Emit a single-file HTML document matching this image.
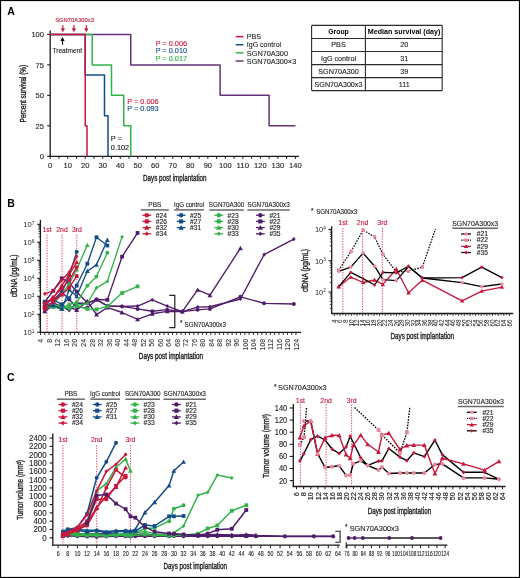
<!DOCTYPE html><html><head><meta charset="utf-8"><style>html,body{margin:0;padding:0;background:#fff;}svg{display:block;will-change:transform;}text{font-family:"Liberation Sans",sans-serif;}</style></head><body>
<svg width="520" height="578" viewBox="0 0 520 578">
<rect x="0" y="0" width="520" height="578" fill="#fff"/>
<text x="7.2" y="14.6" font-size="10.5" font-weight="bold" fill="#000">A</text>
<line x1="50.2" y1="30.6" x2="50.2" y2="156.9" stroke="#1a1a1a" stroke-width="1.3"/>
<line x1="49.6" y1="156.3" x2="299" y2="156.3" stroke="#1a1a1a" stroke-width="1.3"/>
<line x1="47.2" y1="156.3" x2="50.2" y2="156.3" stroke="#1a1a1a" stroke-width="1.1"/>
<text x="44" y="159.1" font-size="8" text-anchor="end" fill="#1e1e1e" stroke="#1e1e1e" stroke-width="0.12" textLength="4.2" lengthAdjust="spacingAndGlyphs">0</text>
<line x1="47.2" y1="125.83" x2="50.2" y2="125.83" stroke="#1a1a1a" stroke-width="1.1"/>
<text x="44" y="128.63" font-size="8" text-anchor="end" fill="#1e1e1e" stroke="#1e1e1e" stroke-width="0.12" textLength="8.4" lengthAdjust="spacingAndGlyphs">25</text>
<line x1="47.2" y1="95.35" x2="50.2" y2="95.35" stroke="#1a1a1a" stroke-width="1.1"/>
<text x="44" y="98.15" font-size="8" text-anchor="end" fill="#1e1e1e" stroke="#1e1e1e" stroke-width="0.12" textLength="8.4" lengthAdjust="spacingAndGlyphs">50</text>
<line x1="47.2" y1="64.88" x2="50.2" y2="64.88" stroke="#1a1a1a" stroke-width="1.1"/>
<text x="44" y="67.67" font-size="8" text-anchor="end" fill="#1e1e1e" stroke="#1e1e1e" stroke-width="0.12" textLength="8.4" lengthAdjust="spacingAndGlyphs">75</text>
<line x1="47.2" y1="34.4" x2="50.2" y2="34.4" stroke="#1a1a1a" stroke-width="1.1"/>
<text x="44" y="37.2" font-size="8" text-anchor="end" fill="#1e1e1e" stroke="#1e1e1e" stroke-width="0.12" textLength="12.6" lengthAdjust="spacingAndGlyphs">100</text>
<line x1="50.2" y1="156.3" x2="50.2" y2="158.9" stroke="#1a1a1a" stroke-width="1"/>
<line x1="58.96" y1="156.3" x2="58.96" y2="158.9" stroke="#1a1a1a" stroke-width="1"/>
<line x1="67.71" y1="156.3" x2="67.71" y2="158.9" stroke="#1a1a1a" stroke-width="1"/>
<line x1="76.47" y1="156.3" x2="76.47" y2="158.9" stroke="#1a1a1a" stroke-width="1"/>
<line x1="85.23" y1="156.3" x2="85.23" y2="158.9" stroke="#1a1a1a" stroke-width="1"/>
<line x1="93.99" y1="156.3" x2="93.99" y2="158.9" stroke="#1a1a1a" stroke-width="1"/>
<line x1="102.74" y1="156.3" x2="102.74" y2="158.9" stroke="#1a1a1a" stroke-width="1"/>
<line x1="111.5" y1="156.3" x2="111.5" y2="158.9" stroke="#1a1a1a" stroke-width="1"/>
<line x1="120.26" y1="156.3" x2="120.26" y2="158.9" stroke="#1a1a1a" stroke-width="1"/>
<line x1="129.01" y1="156.3" x2="129.01" y2="158.9" stroke="#1a1a1a" stroke-width="1"/>
<line x1="137.77" y1="156.3" x2="137.77" y2="158.9" stroke="#1a1a1a" stroke-width="1"/>
<line x1="146.53" y1="156.3" x2="146.53" y2="158.9" stroke="#1a1a1a" stroke-width="1"/>
<line x1="155.28" y1="156.3" x2="155.28" y2="158.9" stroke="#1a1a1a" stroke-width="1"/>
<line x1="164.04" y1="156.3" x2="164.04" y2="158.9" stroke="#1a1a1a" stroke-width="1"/>
<line x1="172.8" y1="156.3" x2="172.8" y2="158.9" stroke="#1a1a1a" stroke-width="1"/>
<line x1="181.56" y1="156.3" x2="181.56" y2="158.9" stroke="#1a1a1a" stroke-width="1"/>
<line x1="190.31" y1="156.3" x2="190.31" y2="158.9" stroke="#1a1a1a" stroke-width="1"/>
<line x1="199.07" y1="156.3" x2="199.07" y2="158.9" stroke="#1a1a1a" stroke-width="1"/>
<line x1="207.83" y1="156.3" x2="207.83" y2="158.9" stroke="#1a1a1a" stroke-width="1"/>
<line x1="216.58" y1="156.3" x2="216.58" y2="158.9" stroke="#1a1a1a" stroke-width="1"/>
<line x1="225.34" y1="156.3" x2="225.34" y2="158.9" stroke="#1a1a1a" stroke-width="1"/>
<line x1="234.1" y1="156.3" x2="234.1" y2="158.9" stroke="#1a1a1a" stroke-width="1"/>
<line x1="242.85" y1="156.3" x2="242.85" y2="158.9" stroke="#1a1a1a" stroke-width="1"/>
<line x1="251.61" y1="156.3" x2="251.61" y2="158.9" stroke="#1a1a1a" stroke-width="1"/>
<line x1="260.37" y1="156.3" x2="260.37" y2="158.9" stroke="#1a1a1a" stroke-width="1"/>
<line x1="269.12" y1="156.3" x2="269.12" y2="158.9" stroke="#1a1a1a" stroke-width="1"/>
<line x1="277.88" y1="156.3" x2="277.88" y2="158.9" stroke="#1a1a1a" stroke-width="1"/>
<line x1="286.64" y1="156.3" x2="286.64" y2="158.9" stroke="#1a1a1a" stroke-width="1"/>
<line x1="295.4" y1="156.3" x2="295.4" y2="158.9" stroke="#1a1a1a" stroke-width="1"/>
<text x="50.2" y="168" font-size="7.6" text-anchor="middle" fill="#1e1e1e" stroke="#1e1e1e" stroke-width="0.12" textLength="4.2" lengthAdjust="spacingAndGlyphs">0</text>
<text x="67.71" y="168" font-size="7.6" text-anchor="middle" fill="#1e1e1e" stroke="#1e1e1e" stroke-width="0.12" textLength="8.4" lengthAdjust="spacingAndGlyphs">10</text>
<text x="85.23" y="168" font-size="7.6" text-anchor="middle" fill="#1e1e1e" stroke="#1e1e1e" stroke-width="0.12" textLength="8.4" lengthAdjust="spacingAndGlyphs">20</text>
<text x="102.74" y="168" font-size="7.6" text-anchor="middle" fill="#1e1e1e" stroke="#1e1e1e" stroke-width="0.12" textLength="8.4" lengthAdjust="spacingAndGlyphs">30</text>
<text x="120.26" y="168" font-size="7.6" text-anchor="middle" fill="#1e1e1e" stroke="#1e1e1e" stroke-width="0.12" textLength="8.4" lengthAdjust="spacingAndGlyphs">40</text>
<text x="137.77" y="168" font-size="7.6" text-anchor="middle" fill="#1e1e1e" stroke="#1e1e1e" stroke-width="0.12" textLength="8.4" lengthAdjust="spacingAndGlyphs">50</text>
<text x="155.28" y="168" font-size="7.6" text-anchor="middle" fill="#1e1e1e" stroke="#1e1e1e" stroke-width="0.12" textLength="8.4" lengthAdjust="spacingAndGlyphs">60</text>
<text x="172.8" y="168" font-size="7.6" text-anchor="middle" fill="#1e1e1e" stroke="#1e1e1e" stroke-width="0.12" textLength="8.4" lengthAdjust="spacingAndGlyphs">70</text>
<text x="190.31" y="168" font-size="7.6" text-anchor="middle" fill="#1e1e1e" stroke="#1e1e1e" stroke-width="0.12" textLength="8.4" lengthAdjust="spacingAndGlyphs">80</text>
<text x="207.83" y="168" font-size="7.6" text-anchor="middle" fill="#1e1e1e" stroke="#1e1e1e" stroke-width="0.12" textLength="8.4" lengthAdjust="spacingAndGlyphs">90</text>
<text x="225.34" y="168" font-size="7.6" text-anchor="middle" fill="#1e1e1e" stroke="#1e1e1e" stroke-width="0.12" textLength="12.6" lengthAdjust="spacingAndGlyphs">100</text>
<text x="242.85" y="168" font-size="7.6" text-anchor="middle" fill="#1e1e1e" stroke="#1e1e1e" stroke-width="0.12" textLength="12.6" lengthAdjust="spacingAndGlyphs">110</text>
<text x="260.37" y="168" font-size="7.6" text-anchor="middle" fill="#1e1e1e" stroke="#1e1e1e" stroke-width="0.12" textLength="12.6" lengthAdjust="spacingAndGlyphs">120</text>
<text x="277.88" y="168" font-size="7.6" text-anchor="middle" fill="#1e1e1e" stroke="#1e1e1e" stroke-width="0.12" textLength="12.6" lengthAdjust="spacingAndGlyphs">130</text>
<text x="295.4" y="168" font-size="7.6" text-anchor="middle" fill="#1e1e1e" stroke="#1e1e1e" stroke-width="0.12" textLength="12.6" lengthAdjust="spacingAndGlyphs">140</text>
<text transform="translate(25.9 93.6) rotate(-90)" x="0" y="0" font-size="8.8" text-anchor="middle" fill="#1e1e1e" stroke="#1e1e1e" stroke-width="0.35" textLength="57.6" lengthAdjust="spacingAndGlyphs">Percent survival (%)</text>
<text x="143.1" y="180.8" font-size="8.8" fill="#1e1e1e" stroke="#1e1e1e" stroke-width="0.35" textLength="63.4" lengthAdjust="spacingAndGlyphs">Days post implantation</text>
<path d="M50.2,34.4 L130.76,34.4 L130.76,64.88 L220.09,64.88 L220.09,95.35 L269.12,95.35 L269.12,125.83 L295.4,125.83 L295.4,125.83" stroke="#663178" stroke-width="1.5" fill="none" stroke-linejoin="round"/>
<path d="M50.2,34.4 L85.23,34.4 L85.23,75.03 L104.49,75.03 L104.49,115.67 L108,115.67 L108,156.3" stroke="#134c88" stroke-width="1.5" fill="none" stroke-linejoin="round"/>
<path d="M85.23,34.4 L92.23,34.4 L92.23,64.88 L111.5,64.88 L111.5,95.35 L123.76,95.35 L123.76,125.83 L130.76,125.83 L130.76,156.3" stroke="#33b24a" stroke-width="1.5" fill="none" stroke-linejoin="round"/>
<path d="M50.2,34.4 L85.23,34.4 L85.23,125.83 L86.98,125.83 L86.98,156.3" stroke="#c8163c" stroke-width="1.5" fill="none" stroke-linejoin="round"/>
<text x="55.2" y="21.9" font-size="6" fill="#c8163c" stroke="#c8163c" stroke-width="0.12" textLength="38.8" lengthAdjust="spacingAndGlyphs">SGN70A300x3</text>
<line x1="62.9" y1="25" x2="62.9" y2="29.2" stroke="#c8163c" stroke-width="1.1"/>
<path d="M60.8,28.2 L65,28.2 L62.9,32.2 Z" fill="#c8163c"/>
<line x1="73.9" y1="25" x2="73.9" y2="29.2" stroke="#c8163c" stroke-width="1.1"/>
<path d="M71.8,28.2 L76,28.2 L73.9,32.2 Z" fill="#c8163c"/>
<line x1="86.3" y1="25" x2="86.3" y2="29.2" stroke="#c8163c" stroke-width="1.1"/>
<path d="M84.2,28.2 L88.4,28.2 L86.3,32.2 Z" fill="#c8163c"/>
<line x1="62.5" y1="40" x2="62.5" y2="44.8" stroke="#000" stroke-width="1.1"/>
<path d="M60.4,41 L64.6,41 L62.5,36.9 Z" fill="#000"/>
<text x="52.5" y="52.6" font-size="7.4" fill="#1e1e1e" stroke="#1e1e1e" stroke-width="0.12" textLength="29.7" lengthAdjust="spacingAndGlyphs">Treatment</text>
<text x="155.8" y="46.1" font-size="6.8" fill="#c8163c" stroke="#c8163c" stroke-width="0.12" textLength="31.2" lengthAdjust="spacingAndGlyphs">P = 0.006</text>
<text x="155.8" y="53.3" font-size="6.8" fill="#134c88" stroke="#134c88" stroke-width="0.12" textLength="31.2" lengthAdjust="spacingAndGlyphs">P = 0.010</text>
<text x="155.8" y="60.5" font-size="6.8" fill="#33b24a" stroke="#33b24a" stroke-width="0.12" textLength="31.2" lengthAdjust="spacingAndGlyphs">P = 0.017</text>
<text x="127.2" y="104.2" font-size="6.8" fill="#c8163c" stroke="#c8163c" stroke-width="0.12" textLength="31.5" lengthAdjust="spacingAndGlyphs">P = 0.006</text>
<text x="127.2" y="111.4" font-size="6.8" fill="#134c88" stroke="#134c88" stroke-width="0.12" textLength="31.5" lengthAdjust="spacingAndGlyphs">P = 0.093</text>
<text x="110.8" y="141.2" font-size="6.8" fill="#1e1e1e" stroke="#1e1e1e" stroke-width="0.12" textLength="11.3" lengthAdjust="spacingAndGlyphs">P =</text>
<text x="110.8" y="149.5" font-size="6.8" fill="#1e1e1e" stroke="#1e1e1e" stroke-width="0.12" textLength="18.4" lengthAdjust="spacingAndGlyphs">0.102</text>
<line x1="235.7" y1="36.6" x2="243.5" y2="36.6" stroke="#c8163c" stroke-width="1.5"/>
<text x="246.8" y="39.35" font-size="7.8" fill="#1e1e1e" stroke="#1e1e1e" stroke-width="0.12" textLength="14.3" lengthAdjust="spacingAndGlyphs">PBS</text>
<line x1="235.7" y1="44.73" x2="243.5" y2="44.73" stroke="#134c88" stroke-width="1.5"/>
<text x="246.8" y="47.48" font-size="7.8" fill="#1e1e1e" stroke="#1e1e1e" stroke-width="0.12" textLength="34.3" lengthAdjust="spacingAndGlyphs">IgG control</text>
<line x1="235.7" y1="52.86" x2="243.5" y2="52.86" stroke="#33b24a" stroke-width="1.5"/>
<text x="246.8" y="55.61" font-size="7.8" fill="#1e1e1e" stroke="#1e1e1e" stroke-width="0.12" textLength="41.2" lengthAdjust="spacingAndGlyphs">SGN70A300</text>
<line x1="235.7" y1="60.99" x2="243.5" y2="60.99" stroke="#663178" stroke-width="1.5"/>
<text x="246.8" y="63.74" font-size="7.8" fill="#1e1e1e" stroke="#1e1e1e" stroke-width="0.12" textLength="49.4" lengthAdjust="spacingAndGlyphs">SGN70A300×3</text>
<g stroke="#2a2a2a" stroke-width="1.1">
<line x1="311.6" y1="25.4" x2="442.2" y2="25.4" stroke="#2a2a2a" stroke-width="1.1"/>
<line x1="311.6" y1="38.45" x2="442.2" y2="38.45" stroke="#2a2a2a" stroke-width="1.1"/>
<line x1="311.6" y1="51.5" x2="442.2" y2="51.5" stroke="#2a2a2a" stroke-width="1.1"/>
<line x1="311.6" y1="64.6" x2="442.2" y2="64.6" stroke="#2a2a2a" stroke-width="1.1"/>
<line x1="311.6" y1="77.65" x2="442.2" y2="77.65" stroke="#2a2a2a" stroke-width="1.1"/>
<line x1="311.6" y1="90.6" x2="442.2" y2="90.6" stroke="#2a2a2a" stroke-width="1.1"/>
<line x1="311.6" y1="25.4" x2="311.6" y2="90.6" stroke="#2a2a2a" stroke-width="1.1"/>
<line x1="365.4" y1="25.4" x2="365.4" y2="90.6" stroke="#2a2a2a" stroke-width="1.1"/>
<line x1="442.2" y1="25.4" x2="442.2" y2="90.6" stroke="#2a2a2a" stroke-width="1.1"/>
</g>
<text x="338.5" y="33.8" font-size="7" text-anchor="middle" font-weight="bold" fill="#000" textLength="20.7" lengthAdjust="spacingAndGlyphs">Group</text>
<text x="404.1" y="33.8" font-size="7" text-anchor="middle" font-weight="bold" fill="#000" textLength="72.6" lengthAdjust="spacingAndGlyphs">Median survival (day)</text>
<text x="338.5" y="47.48" font-size="7.2" text-anchor="middle" fill="#1e1e1e" stroke="#1e1e1e" stroke-width="0.12">PBS</text>
<text x="404.3" y="47.48" font-size="7.2" text-anchor="middle" fill="#1e1e1e" stroke="#1e1e1e" stroke-width="0.12">20</text>
<text x="338.5" y="60.55" font-size="7.2" text-anchor="middle" fill="#1e1e1e" stroke="#1e1e1e" stroke-width="0.12">IgG control</text>
<text x="404.3" y="60.55" font-size="7.2" text-anchor="middle" fill="#1e1e1e" stroke="#1e1e1e" stroke-width="0.12">31</text>
<text x="338.5" y="73.62" font-size="7.2" text-anchor="middle" fill="#1e1e1e" stroke="#1e1e1e" stroke-width="0.12">SGN70A300</text>
<text x="404.3" y="73.62" font-size="7.2" text-anchor="middle" fill="#1e1e1e" stroke="#1e1e1e" stroke-width="0.12">39</text>
<text x="338.5" y="86.62" font-size="7.2" text-anchor="middle" fill="#1e1e1e" stroke="#1e1e1e" stroke-width="0.12">SGN70A300x3</text>
<text x="404.3" y="86.62" font-size="7.2" text-anchor="middle" fill="#1e1e1e" stroke="#1e1e1e" stroke-width="0.12">111</text>
<text x="7.2" y="207.1" font-size="10.5" font-weight="bold" fill="#000">B</text>
<line x1="40.4" y1="219.8" x2="40.4" y2="332.9" stroke="#1a1a1a" stroke-width="1.3"/>
<line x1="37.2" y1="332.3" x2="40.4" y2="332.3" stroke="#1a1a1a" stroke-width="1.1"/>
<text x="34.4" y="335.1" font-size="7.6" text-anchor="end" fill="#1e1e1e">10<tspan font-size="4.8" dy="-2.4">1</tspan></text>
<line x1="38.5" y1="326.88" x2="40.4" y2="326.88" stroke="#1a1a1a" stroke-width="0.8"/>
<line x1="38.5" y1="323.71" x2="40.4" y2="323.71" stroke="#1a1a1a" stroke-width="0.8"/>
<line x1="38.5" y1="321.46" x2="40.4" y2="321.46" stroke="#1a1a1a" stroke-width="0.8"/>
<line x1="38.5" y1="319.72" x2="40.4" y2="319.72" stroke="#1a1a1a" stroke-width="0.8"/>
<line x1="38.5" y1="318.29" x2="40.4" y2="318.29" stroke="#1a1a1a" stroke-width="0.8"/>
<line x1="38.5" y1="317.09" x2="40.4" y2="317.09" stroke="#1a1a1a" stroke-width="0.8"/>
<line x1="38.5" y1="316.04" x2="40.4" y2="316.04" stroke="#1a1a1a" stroke-width="0.8"/>
<line x1="38.5" y1="315.12" x2="40.4" y2="315.12" stroke="#1a1a1a" stroke-width="0.8"/>
<line x1="37.2" y1="314.3" x2="40.4" y2="314.3" stroke="#1a1a1a" stroke-width="1.1"/>
<text x="34.4" y="317.1" font-size="7.6" text-anchor="end" fill="#1e1e1e">10<tspan font-size="4.8" dy="-2.4">2</tspan></text>
<line x1="38.5" y1="308.88" x2="40.4" y2="308.88" stroke="#1a1a1a" stroke-width="0.8"/>
<line x1="38.5" y1="305.71" x2="40.4" y2="305.71" stroke="#1a1a1a" stroke-width="0.8"/>
<line x1="38.5" y1="303.46" x2="40.4" y2="303.46" stroke="#1a1a1a" stroke-width="0.8"/>
<line x1="38.5" y1="301.72" x2="40.4" y2="301.72" stroke="#1a1a1a" stroke-width="0.8"/>
<line x1="38.5" y1="300.29" x2="40.4" y2="300.29" stroke="#1a1a1a" stroke-width="0.8"/>
<line x1="38.5" y1="299.09" x2="40.4" y2="299.09" stroke="#1a1a1a" stroke-width="0.8"/>
<line x1="38.5" y1="298.04" x2="40.4" y2="298.04" stroke="#1a1a1a" stroke-width="0.8"/>
<line x1="38.5" y1="297.12" x2="40.4" y2="297.12" stroke="#1a1a1a" stroke-width="0.8"/>
<line x1="37.2" y1="296.3" x2="40.4" y2="296.3" stroke="#1a1a1a" stroke-width="1.1"/>
<text x="34.4" y="299.1" font-size="7.6" text-anchor="end" fill="#1e1e1e">10<tspan font-size="4.8" dy="-2.4">3</tspan></text>
<line x1="38.5" y1="290.88" x2="40.4" y2="290.88" stroke="#1a1a1a" stroke-width="0.8"/>
<line x1="38.5" y1="287.71" x2="40.4" y2="287.71" stroke="#1a1a1a" stroke-width="0.8"/>
<line x1="38.5" y1="285.46" x2="40.4" y2="285.46" stroke="#1a1a1a" stroke-width="0.8"/>
<line x1="38.5" y1="283.72" x2="40.4" y2="283.72" stroke="#1a1a1a" stroke-width="0.8"/>
<line x1="38.5" y1="282.29" x2="40.4" y2="282.29" stroke="#1a1a1a" stroke-width="0.8"/>
<line x1="38.5" y1="281.09" x2="40.4" y2="281.09" stroke="#1a1a1a" stroke-width="0.8"/>
<line x1="38.5" y1="280.04" x2="40.4" y2="280.04" stroke="#1a1a1a" stroke-width="0.8"/>
<line x1="38.5" y1="279.12" x2="40.4" y2="279.12" stroke="#1a1a1a" stroke-width="0.8"/>
<line x1="37.2" y1="278.3" x2="40.4" y2="278.3" stroke="#1a1a1a" stroke-width="1.1"/>
<text x="34.4" y="281.1" font-size="7.6" text-anchor="end" fill="#1e1e1e">10<tspan font-size="4.8" dy="-2.4">4</tspan></text>
<line x1="38.5" y1="272.88" x2="40.4" y2="272.88" stroke="#1a1a1a" stroke-width="0.8"/>
<line x1="38.5" y1="269.71" x2="40.4" y2="269.71" stroke="#1a1a1a" stroke-width="0.8"/>
<line x1="38.5" y1="267.46" x2="40.4" y2="267.46" stroke="#1a1a1a" stroke-width="0.8"/>
<line x1="38.5" y1="265.72" x2="40.4" y2="265.72" stroke="#1a1a1a" stroke-width="0.8"/>
<line x1="38.5" y1="264.29" x2="40.4" y2="264.29" stroke="#1a1a1a" stroke-width="0.8"/>
<line x1="38.5" y1="263.09" x2="40.4" y2="263.09" stroke="#1a1a1a" stroke-width="0.8"/>
<line x1="38.5" y1="262.04" x2="40.4" y2="262.04" stroke="#1a1a1a" stroke-width="0.8"/>
<line x1="38.5" y1="261.12" x2="40.4" y2="261.12" stroke="#1a1a1a" stroke-width="0.8"/>
<line x1="37.2" y1="260.3" x2="40.4" y2="260.3" stroke="#1a1a1a" stroke-width="1.1"/>
<text x="34.4" y="263.1" font-size="7.6" text-anchor="end" fill="#1e1e1e">10<tspan font-size="4.8" dy="-2.4">5</tspan></text>
<line x1="38.5" y1="254.88" x2="40.4" y2="254.88" stroke="#1a1a1a" stroke-width="0.8"/>
<line x1="38.5" y1="251.71" x2="40.4" y2="251.71" stroke="#1a1a1a" stroke-width="0.8"/>
<line x1="38.5" y1="249.46" x2="40.4" y2="249.46" stroke="#1a1a1a" stroke-width="0.8"/>
<line x1="38.5" y1="247.72" x2="40.4" y2="247.72" stroke="#1a1a1a" stroke-width="0.8"/>
<line x1="38.5" y1="246.29" x2="40.4" y2="246.29" stroke="#1a1a1a" stroke-width="0.8"/>
<line x1="38.5" y1="245.09" x2="40.4" y2="245.09" stroke="#1a1a1a" stroke-width="0.8"/>
<line x1="38.5" y1="244.04" x2="40.4" y2="244.04" stroke="#1a1a1a" stroke-width="0.8"/>
<line x1="38.5" y1="243.12" x2="40.4" y2="243.12" stroke="#1a1a1a" stroke-width="0.8"/>
<line x1="37.2" y1="242.3" x2="40.4" y2="242.3" stroke="#1a1a1a" stroke-width="1.1"/>
<text x="34.4" y="245.1" font-size="7.6" text-anchor="end" fill="#1e1e1e">10<tspan font-size="4.8" dy="-2.4">6</tspan></text>
<line x1="38.5" y1="236.88" x2="40.4" y2="236.88" stroke="#1a1a1a" stroke-width="0.8"/>
<line x1="38.5" y1="233.71" x2="40.4" y2="233.71" stroke="#1a1a1a" stroke-width="0.8"/>
<line x1="38.5" y1="231.46" x2="40.4" y2="231.46" stroke="#1a1a1a" stroke-width="0.8"/>
<line x1="38.5" y1="229.72" x2="40.4" y2="229.72" stroke="#1a1a1a" stroke-width="0.8"/>
<line x1="38.5" y1="228.29" x2="40.4" y2="228.29" stroke="#1a1a1a" stroke-width="0.8"/>
<line x1="38.5" y1="227.09" x2="40.4" y2="227.09" stroke="#1a1a1a" stroke-width="0.8"/>
<line x1="38.5" y1="226.04" x2="40.4" y2="226.04" stroke="#1a1a1a" stroke-width="0.8"/>
<line x1="38.5" y1="225.12" x2="40.4" y2="225.12" stroke="#1a1a1a" stroke-width="0.8"/>
<line x1="37.2" y1="224.3" x2="40.4" y2="224.3" stroke="#1a1a1a" stroke-width="1.1"/>
<text x="34.4" y="227.1" font-size="7.6" text-anchor="end" fill="#1e1e1e">10<tspan font-size="4.8" dy="-2.4">7</tspan></text>
<line x1="39.8" y1="332.3" x2="301" y2="332.3" stroke="#1a1a1a" stroke-width="1.3"/>
<line x1="40.5" y1="332.3" x2="40.5" y2="335" stroke="#1a1a1a" stroke-width="0.9"/>
<line x1="44.76" y1="332.3" x2="44.76" y2="335" stroke="#1a1a1a" stroke-width="0.9"/>
<line x1="49.02" y1="332.3" x2="49.02" y2="335" stroke="#1a1a1a" stroke-width="0.9"/>
<line x1="53.27" y1="332.3" x2="53.27" y2="335" stroke="#1a1a1a" stroke-width="0.9"/>
<line x1="57.53" y1="332.3" x2="57.53" y2="335" stroke="#1a1a1a" stroke-width="0.9"/>
<line x1="61.79" y1="332.3" x2="61.79" y2="335" stroke="#1a1a1a" stroke-width="0.9"/>
<line x1="66.05" y1="332.3" x2="66.05" y2="335" stroke="#1a1a1a" stroke-width="0.9"/>
<line x1="70.31" y1="332.3" x2="70.31" y2="335" stroke="#1a1a1a" stroke-width="0.9"/>
<line x1="74.56" y1="332.3" x2="74.56" y2="335" stroke="#1a1a1a" stroke-width="0.9"/>
<line x1="78.82" y1="332.3" x2="78.82" y2="335" stroke="#1a1a1a" stroke-width="0.9"/>
<line x1="83.08" y1="332.3" x2="83.08" y2="335" stroke="#1a1a1a" stroke-width="0.9"/>
<line x1="87.34" y1="332.3" x2="87.34" y2="335" stroke="#1a1a1a" stroke-width="0.9"/>
<line x1="91.6" y1="332.3" x2="91.6" y2="335" stroke="#1a1a1a" stroke-width="0.9"/>
<line x1="95.85" y1="332.3" x2="95.85" y2="335" stroke="#1a1a1a" stroke-width="0.9"/>
<line x1="100.11" y1="332.3" x2="100.11" y2="335" stroke="#1a1a1a" stroke-width="0.9"/>
<line x1="104.37" y1="332.3" x2="104.37" y2="335" stroke="#1a1a1a" stroke-width="0.9"/>
<line x1="108.63" y1="332.3" x2="108.63" y2="335" stroke="#1a1a1a" stroke-width="0.9"/>
<line x1="112.89" y1="332.3" x2="112.89" y2="335" stroke="#1a1a1a" stroke-width="0.9"/>
<line x1="117.14" y1="332.3" x2="117.14" y2="335" stroke="#1a1a1a" stroke-width="0.9"/>
<line x1="121.4" y1="332.3" x2="121.4" y2="335" stroke="#1a1a1a" stroke-width="0.9"/>
<line x1="125.66" y1="332.3" x2="125.66" y2="335" stroke="#1a1a1a" stroke-width="0.9"/>
<line x1="129.92" y1="332.3" x2="129.92" y2="335" stroke="#1a1a1a" stroke-width="0.9"/>
<line x1="134.18" y1="332.3" x2="134.18" y2="335" stroke="#1a1a1a" stroke-width="0.9"/>
<line x1="138.43" y1="332.3" x2="138.43" y2="335" stroke="#1a1a1a" stroke-width="0.9"/>
<line x1="142.69" y1="332.3" x2="142.69" y2="335" stroke="#1a1a1a" stroke-width="0.9"/>
<line x1="146.95" y1="332.3" x2="146.95" y2="335" stroke="#1a1a1a" stroke-width="0.9"/>
<line x1="151.21" y1="332.3" x2="151.21" y2="335" stroke="#1a1a1a" stroke-width="0.9"/>
<line x1="155.47" y1="332.3" x2="155.47" y2="335" stroke="#1a1a1a" stroke-width="0.9"/>
<line x1="159.72" y1="332.3" x2="159.72" y2="335" stroke="#1a1a1a" stroke-width="0.9"/>
<line x1="163.98" y1="332.3" x2="163.98" y2="335" stroke="#1a1a1a" stroke-width="0.9"/>
<line x1="168.24" y1="332.3" x2="168.24" y2="335" stroke="#1a1a1a" stroke-width="0.9"/>
<line x1="172.5" y1="332.3" x2="172.5" y2="335" stroke="#1a1a1a" stroke-width="0.9"/>
<line x1="176.76" y1="332.3" x2="176.76" y2="335" stroke="#1a1a1a" stroke-width="0.9"/>
<line x1="181.01" y1="332.3" x2="181.01" y2="335" stroke="#1a1a1a" stroke-width="0.9"/>
<line x1="185.27" y1="332.3" x2="185.27" y2="335" stroke="#1a1a1a" stroke-width="0.9"/>
<line x1="189.53" y1="332.3" x2="189.53" y2="335" stroke="#1a1a1a" stroke-width="0.9"/>
<line x1="193.79" y1="332.3" x2="193.79" y2="335" stroke="#1a1a1a" stroke-width="0.9"/>
<line x1="198.05" y1="332.3" x2="198.05" y2="335" stroke="#1a1a1a" stroke-width="0.9"/>
<line x1="202.3" y1="332.3" x2="202.3" y2="335" stroke="#1a1a1a" stroke-width="0.9"/>
<line x1="206.56" y1="332.3" x2="206.56" y2="335" stroke="#1a1a1a" stroke-width="0.9"/>
<line x1="210.82" y1="332.3" x2="210.82" y2="335" stroke="#1a1a1a" stroke-width="0.9"/>
<line x1="215.08" y1="332.3" x2="215.08" y2="335" stroke="#1a1a1a" stroke-width="0.9"/>
<line x1="219.34" y1="332.3" x2="219.34" y2="335" stroke="#1a1a1a" stroke-width="0.9"/>
<line x1="223.59" y1="332.3" x2="223.59" y2="335" stroke="#1a1a1a" stroke-width="0.9"/>
<line x1="227.85" y1="332.3" x2="227.85" y2="335" stroke="#1a1a1a" stroke-width="0.9"/>
<line x1="232.11" y1="332.3" x2="232.11" y2="335" stroke="#1a1a1a" stroke-width="0.9"/>
<line x1="236.37" y1="332.3" x2="236.37" y2="335" stroke="#1a1a1a" stroke-width="0.9"/>
<line x1="240.63" y1="332.3" x2="240.63" y2="335" stroke="#1a1a1a" stroke-width="0.9"/>
<line x1="244.88" y1="332.3" x2="244.88" y2="335" stroke="#1a1a1a" stroke-width="0.9"/>
<line x1="249.14" y1="332.3" x2="249.14" y2="335" stroke="#1a1a1a" stroke-width="0.9"/>
<line x1="253.4" y1="332.3" x2="253.4" y2="335" stroke="#1a1a1a" stroke-width="0.9"/>
<line x1="257.66" y1="332.3" x2="257.66" y2="335" stroke="#1a1a1a" stroke-width="0.9"/>
<line x1="261.92" y1="332.3" x2="261.92" y2="335" stroke="#1a1a1a" stroke-width="0.9"/>
<line x1="266.17" y1="332.3" x2="266.17" y2="335" stroke="#1a1a1a" stroke-width="0.9"/>
<line x1="270.43" y1="332.3" x2="270.43" y2="335" stroke="#1a1a1a" stroke-width="0.9"/>
<line x1="274.69" y1="332.3" x2="274.69" y2="335" stroke="#1a1a1a" stroke-width="0.9"/>
<line x1="278.95" y1="332.3" x2="278.95" y2="335" stroke="#1a1a1a" stroke-width="0.9"/>
<line x1="283.21" y1="332.3" x2="283.21" y2="335" stroke="#1a1a1a" stroke-width="0.9"/>
<line x1="287.46" y1="332.3" x2="287.46" y2="335" stroke="#1a1a1a" stroke-width="0.9"/>
<line x1="291.72" y1="332.3" x2="291.72" y2="335" stroke="#1a1a1a" stroke-width="0.9"/>
<line x1="295.98" y1="332.3" x2="295.98" y2="335" stroke="#1a1a1a" stroke-width="0.9"/>
<text transform="translate(43.4 338.9) rotate(-90)" x="0" y="0" font-size="7" text-anchor="end" fill="#1e1e1e" stroke="#1e1e1e" stroke-width="0.05">4</text>
<text transform="translate(51.92 338.9) rotate(-90)" x="0" y="0" font-size="7" text-anchor="end" fill="#1e1e1e" stroke="#1e1e1e" stroke-width="0.05">8</text>
<text transform="translate(60.43 338.9) rotate(-90)" x="0" y="0" font-size="7" text-anchor="end" fill="#1e1e1e" stroke="#1e1e1e" stroke-width="0.05">12</text>
<text transform="translate(68.95 338.9) rotate(-90)" x="0" y="0" font-size="7" text-anchor="end" fill="#1e1e1e" stroke="#1e1e1e" stroke-width="0.05">16</text>
<text transform="translate(77.46 338.9) rotate(-90)" x="0" y="0" font-size="7" text-anchor="end" fill="#1e1e1e" stroke="#1e1e1e" stroke-width="0.05">20</text>
<text transform="translate(85.98 338.9) rotate(-90)" x="0" y="0" font-size="7" text-anchor="end" fill="#1e1e1e" stroke="#1e1e1e" stroke-width="0.05">24</text>
<text transform="translate(94.5 338.9) rotate(-90)" x="0" y="0" font-size="7" text-anchor="end" fill="#1e1e1e" stroke="#1e1e1e" stroke-width="0.05">28</text>
<text transform="translate(103.01 338.9) rotate(-90)" x="0" y="0" font-size="7" text-anchor="end" fill="#1e1e1e" stroke="#1e1e1e" stroke-width="0.05">32</text>
<text transform="translate(111.53 338.9) rotate(-90)" x="0" y="0" font-size="7" text-anchor="end" fill="#1e1e1e" stroke="#1e1e1e" stroke-width="0.05">36</text>
<text transform="translate(120.04 338.9) rotate(-90)" x="0" y="0" font-size="7" text-anchor="end" fill="#1e1e1e" stroke="#1e1e1e" stroke-width="0.05">40</text>
<text transform="translate(128.56 338.9) rotate(-90)" x="0" y="0" font-size="7" text-anchor="end" fill="#1e1e1e" stroke="#1e1e1e" stroke-width="0.05">44</text>
<text transform="translate(137.08 338.9) rotate(-90)" x="0" y="0" font-size="7" text-anchor="end" fill="#1e1e1e" stroke="#1e1e1e" stroke-width="0.05">48</text>
<text transform="translate(145.59 338.9) rotate(-90)" x="0" y="0" font-size="7" text-anchor="end" fill="#1e1e1e" stroke="#1e1e1e" stroke-width="0.05">52</text>
<text transform="translate(154.11 338.9) rotate(-90)" x="0" y="0" font-size="7" text-anchor="end" fill="#1e1e1e" stroke="#1e1e1e" stroke-width="0.05">56</text>
<text transform="translate(162.62 338.9) rotate(-90)" x="0" y="0" font-size="7" text-anchor="end" fill="#1e1e1e" stroke="#1e1e1e" stroke-width="0.05">60</text>
<text transform="translate(171.14 338.9) rotate(-90)" x="0" y="0" font-size="7" text-anchor="end" fill="#1e1e1e" stroke="#1e1e1e" stroke-width="0.05">64</text>
<text transform="translate(179.66 338.9) rotate(-90)" x="0" y="0" font-size="7" text-anchor="end" fill="#1e1e1e" stroke="#1e1e1e" stroke-width="0.05">68</text>
<text transform="translate(188.17 338.9) rotate(-90)" x="0" y="0" font-size="7" text-anchor="end" fill="#1e1e1e" stroke="#1e1e1e" stroke-width="0.05">72</text>
<text transform="translate(196.69 338.9) rotate(-90)" x="0" y="0" font-size="7" text-anchor="end" fill="#1e1e1e" stroke="#1e1e1e" stroke-width="0.05">76</text>
<text transform="translate(205.2 338.9) rotate(-90)" x="0" y="0" font-size="7" text-anchor="end" fill="#1e1e1e" stroke="#1e1e1e" stroke-width="0.05">80</text>
<text transform="translate(213.72 338.9) rotate(-90)" x="0" y="0" font-size="7" text-anchor="end" fill="#1e1e1e" stroke="#1e1e1e" stroke-width="0.05">84</text>
<text transform="translate(222.24 338.9) rotate(-90)" x="0" y="0" font-size="7" text-anchor="end" fill="#1e1e1e" stroke="#1e1e1e" stroke-width="0.05">88</text>
<text transform="translate(230.75 338.9) rotate(-90)" x="0" y="0" font-size="7" text-anchor="end" fill="#1e1e1e" stroke="#1e1e1e" stroke-width="0.05">92</text>
<text transform="translate(239.27 338.9) rotate(-90)" x="0" y="0" font-size="7" text-anchor="end" fill="#1e1e1e" stroke="#1e1e1e" stroke-width="0.05">96</text>
<text transform="translate(247.78 338.9) rotate(-90)" x="0" y="0" font-size="7" text-anchor="end" fill="#1e1e1e" stroke="#1e1e1e" stroke-width="0.05">100</text>
<text transform="translate(256.3 338.9) rotate(-90)" x="0" y="0" font-size="7" text-anchor="end" fill="#1e1e1e" stroke="#1e1e1e" stroke-width="0.05">104</text>
<text transform="translate(264.82 338.9) rotate(-90)" x="0" y="0" font-size="7" text-anchor="end" fill="#1e1e1e" stroke="#1e1e1e" stroke-width="0.05">108</text>
<text transform="translate(273.33 338.9) rotate(-90)" x="0" y="0" font-size="7" text-anchor="end" fill="#1e1e1e" stroke="#1e1e1e" stroke-width="0.05">112</text>
<text transform="translate(281.85 338.9) rotate(-90)" x="0" y="0" font-size="7" text-anchor="end" fill="#1e1e1e" stroke="#1e1e1e" stroke-width="0.05">116</text>
<text transform="translate(290.36 338.9) rotate(-90)" x="0" y="0" font-size="7" text-anchor="end" fill="#1e1e1e" stroke="#1e1e1e" stroke-width="0.05">120</text>
<text transform="translate(298.88 338.9) rotate(-90)" x="0" y="0" font-size="7" text-anchor="end" fill="#1e1e1e" stroke="#1e1e1e" stroke-width="0.05">124</text>
<text transform="translate(17.4 275.9) rotate(-90)" x="0" y="0" font-size="8.8" text-anchor="middle" fill="#1e1e1e" stroke="#1e1e1e" stroke-width="0.35" textLength="42.8" lengthAdjust="spacingAndGlyphs">cfDNA (pg/mL)</text>
<text x="138.8" y="359.3" font-size="8.8" fill="#1e1e1e" stroke="#1e1e1e" stroke-width="0.35" textLength="64.3" lengthAdjust="spacingAndGlyphs">Days post implantation</text>
<line x1="47.09" y1="234.6" x2="47.09" y2="332" stroke="#e0405f" stroke-width="1" stroke-dasharray="1.3 1.3"/>
<text x="47.09" y="232" font-size="6.9" text-anchor="middle" fill="#c8163c" stroke="#c8163c" stroke-width="0.12">1st</text>
<line x1="61.99" y1="234.6" x2="61.99" y2="332" stroke="#e0405f" stroke-width="1" stroke-dasharray="1.3 1.3"/>
<text x="61.99" y="232" font-size="6.9" text-anchor="middle" fill="#c8163c" stroke="#c8163c" stroke-width="0.12">2nd</text>
<line x1="76.89" y1="234.6" x2="76.89" y2="332" stroke="#e0405f" stroke-width="1" stroke-dasharray="1.3 1.3"/>
<text x="76.89" y="232" font-size="6.9" text-anchor="middle" fill="#c8163c" stroke="#c8163c" stroke-width="0.12">3rd</text>
<path d="M169.3,295.3 H174.8 V327.7 H169.3" stroke="#222" stroke-width="1.2" fill="none"/>
<text x="180" y="325.2" font-size="6.3" fill="#1e1e1e" stroke="#1e1e1e" stroke-width="0.12">*</text>
<text x="184.6" y="326.5" font-size="6.3" fill="#1e1e1e" stroke="#1e1e1e" stroke-width="0.12" textLength="41.3" lengthAdjust="spacingAndGlyphs">SGN70A300x3</text>
<text x="154.8" y="207.1" font-size="6.4" text-anchor="middle" fill="#1e1e1e" stroke="#1e1e1e" stroke-width="0.12" textLength="13" lengthAdjust="spacingAndGlyphs">PBS</text>
<line x1="140.8" y1="209.9" x2="168.8" y2="209.9" stroke="#6a6a6a" stroke-width="1.5"/>
<text x="189.05" y="207.1" font-size="6.4" text-anchor="middle" fill="#1e1e1e" stroke="#1e1e1e" stroke-width="0.12" textLength="30.1" lengthAdjust="spacingAndGlyphs">IgG control</text>
<line x1="174.2" y1="209.9" x2="203.9" y2="209.9" stroke="#6a6a6a" stroke-width="1.5"/>
<text x="226.6" y="207.1" font-size="6.4" text-anchor="middle" fill="#1e1e1e" stroke="#1e1e1e" stroke-width="0.12" textLength="35.6" lengthAdjust="spacingAndGlyphs">SGN70A300</text>
<line x1="209.3" y1="209.9" x2="243.9" y2="209.9" stroke="#6a6a6a" stroke-width="1.5"/>
<text x="268.6" y="207.1" font-size="6.4" text-anchor="middle" fill="#1e1e1e" stroke="#1e1e1e" stroke-width="0.12" textLength="42.4" lengthAdjust="spacingAndGlyphs">SGN70A300x3</text>
<line x1="247.4" y1="209.9" x2="289.8" y2="209.9" stroke="#6a6a6a" stroke-width="1.5"/>
<line x1="142.4" y1="215.2" x2="151.2" y2="215.2" stroke="#c8163c" stroke-width="1.3"/>
<circle cx="146.8" cy="215.2" r="2.18" fill="#c8163c"/>
<text x="155.8" y="217.5" font-size="6.4" fill="#1e1e1e" stroke="#1e1e1e" stroke-width="0.12" textLength="11.2" lengthAdjust="spacingAndGlyphs">#24</text>
<line x1="142.4" y1="221.4" x2="151.2" y2="221.4" stroke="#c8163c" stroke-width="1.3"/>
<rect x="144.73" y="219.33" width="4.14" height="4.14" fill="#c8163c"/>
<text x="155.8" y="223.7" font-size="6.4" fill="#1e1e1e" stroke="#1e1e1e" stroke-width="0.12" textLength="11.2" lengthAdjust="spacingAndGlyphs">#26</text>
<line x1="142.4" y1="227.6" x2="151.2" y2="227.6" stroke="#c8163c" stroke-width="1.3"/>
<path d="M146.8,224.95 L149.45,229.72 L144.16,229.72 Z" fill="#c8163c"/>
<text x="155.8" y="229.9" font-size="6.4" fill="#1e1e1e" stroke="#1e1e1e" stroke-width="0.12" textLength="11.2" lengthAdjust="spacingAndGlyphs">#32</text>
<line x1="142.4" y1="233.8" x2="151.2" y2="233.8" stroke="#c8163c" stroke-width="1.3"/>
<path d="M146.8,231.5 L148.76,233.8 L146.8,236.1 L144.84,233.8 Z" fill="#c8163c"/>
<text x="155.8" y="236.1" font-size="6.4" fill="#1e1e1e" stroke="#1e1e1e" stroke-width="0.12" textLength="11.2" lengthAdjust="spacingAndGlyphs">#34</text>
<line x1="176.7" y1="215.2" x2="185.5" y2="215.2" stroke="#134c88" stroke-width="1.3"/>
<circle cx="181.1" cy="215.2" r="2.18" fill="#134c88"/>
<text x="190" y="217.5" font-size="6.4" fill="#1e1e1e" stroke="#1e1e1e" stroke-width="0.12" textLength="11.2" lengthAdjust="spacingAndGlyphs">#25</text>
<line x1="176.7" y1="221.4" x2="185.5" y2="221.4" stroke="#134c88" stroke-width="1.3"/>
<rect x="179.03" y="219.33" width="4.14" height="4.14" fill="#134c88"/>
<text x="190" y="223.7" font-size="6.4" fill="#1e1e1e" stroke="#1e1e1e" stroke-width="0.12" textLength="11.2" lengthAdjust="spacingAndGlyphs">#27</text>
<line x1="176.7" y1="227.6" x2="185.5" y2="227.6" stroke="#134c88" stroke-width="1.3"/>
<path d="M181.1,224.95 L183.75,229.72 L178.45,229.72 Z" fill="#134c88"/>
<text x="190" y="229.9" font-size="6.4" fill="#1e1e1e" stroke="#1e1e1e" stroke-width="0.12" textLength="11.2" lengthAdjust="spacingAndGlyphs">#31</text>
<line x1="214.4" y1="215.2" x2="223.2" y2="215.2" stroke="#33b24a" stroke-width="1.3"/>
<circle cx="218.8" cy="215.2" r="2.18" fill="#33b24a"/>
<text x="227.5" y="217.5" font-size="6.4" fill="#1e1e1e" stroke="#1e1e1e" stroke-width="0.12" textLength="11.2" lengthAdjust="spacingAndGlyphs">#23</text>
<line x1="214.4" y1="221.4" x2="223.2" y2="221.4" stroke="#33b24a" stroke-width="1.3"/>
<rect x="216.73" y="219.33" width="4.14" height="4.14" fill="#33b24a"/>
<text x="227.5" y="223.7" font-size="6.4" fill="#1e1e1e" stroke="#1e1e1e" stroke-width="0.12" textLength="11.2" lengthAdjust="spacingAndGlyphs">#28</text>
<line x1="214.4" y1="227.6" x2="223.2" y2="227.6" stroke="#33b24a" stroke-width="1.3"/>
<path d="M218.8,224.95 L221.45,229.72 L216.16,229.72 Z" fill="#33b24a"/>
<text x="227.5" y="229.9" font-size="6.4" fill="#1e1e1e" stroke="#1e1e1e" stroke-width="0.12" textLength="11.2" lengthAdjust="spacingAndGlyphs">#30</text>
<line x1="214.4" y1="233.8" x2="223.2" y2="233.8" stroke="#33b24a" stroke-width="1.3"/>
<path d="M218.8,231.5 L220.76,233.8 L218.8,236.1 L216.84,233.8 Z" fill="#33b24a"/>
<text x="227.5" y="236.1" font-size="6.4" fill="#1e1e1e" stroke="#1e1e1e" stroke-width="0.12" textLength="11.2" lengthAdjust="spacingAndGlyphs">#33</text>
<line x1="255.9" y1="215.2" x2="264.7" y2="215.2" stroke="#4f1c6b" stroke-width="1.3"/>
<circle cx="260.3" cy="215.2" r="2.18" fill="#4f1c6b"/>
<text x="269.4" y="217.5" font-size="6.4" fill="#1e1e1e" stroke="#1e1e1e" stroke-width="0.12" textLength="11.2" lengthAdjust="spacingAndGlyphs">#21</text>
<line x1="255.9" y1="221.4" x2="264.7" y2="221.4" stroke="#4f1c6b" stroke-width="1.3"/>
<rect x="258.23" y="219.33" width="4.14" height="4.14" fill="#4f1c6b"/>
<text x="269.4" y="223.7" font-size="6.4" fill="#1e1e1e" stroke="#1e1e1e" stroke-width="0.12" textLength="11.2" lengthAdjust="spacingAndGlyphs">#22</text>
<line x1="255.9" y1="227.6" x2="264.7" y2="227.6" stroke="#4f1c6b" stroke-width="1.3"/>
<path d="M260.3,224.95 L262.94,229.72 L257.66,229.72 Z" fill="#4f1c6b"/>
<text x="269.4" y="229.9" font-size="6.4" fill="#1e1e1e" stroke="#1e1e1e" stroke-width="0.12" textLength="11.2" lengthAdjust="spacingAndGlyphs">#29</text>
<line x1="255.9" y1="233.8" x2="264.7" y2="233.8" stroke="#4f1c6b" stroke-width="1.3"/>
<path d="M260.3,231.5 L262.25,233.8 L260.3,236.1 L258.35,233.8 Z" fill="#4f1c6b"/>
<text x="269.4" y="236.1" font-size="6.4" fill="#1e1e1e" stroke="#1e1e1e" stroke-width="0.12" textLength="11.2" lengthAdjust="spacingAndGlyphs">#35</text>
<path d="M44.76,302.24 L53.27,299.9 L61.79,291.98 L69.24,299.54 L76.69,307.1 L87.34,307.82 L96.49,299.72 L107.35,305.84 L122.04,306.38 L137.58,308.9 L152.27,311.24 L167.18,309.62 L182.29,311.6 L197.62,309.8 L209.97,308.9 L240.41,296.84 L264.04,303.32 L293.85,304.04" stroke="#4f1c6b" stroke-width="1.35" fill="none" stroke-linejoin="round"/>
<circle cx="44.76" cy="302.24" r="1.99" fill="#4f1c6b"/>
<circle cx="53.27" cy="299.9" r="1.99" fill="#4f1c6b"/>
<circle cx="61.79" cy="291.98" r="1.99" fill="#4f1c6b"/>
<circle cx="69.24" cy="299.54" r="1.99" fill="#4f1c6b"/>
<circle cx="76.69" cy="307.1" r="1.99" fill="#4f1c6b"/>
<circle cx="87.34" cy="307.82" r="1.99" fill="#4f1c6b"/>
<circle cx="96.49" cy="299.72" r="1.99" fill="#4f1c6b"/>
<circle cx="107.35" cy="305.84" r="1.99" fill="#4f1c6b"/>
<circle cx="122.04" cy="306.38" r="1.99" fill="#4f1c6b"/>
<circle cx="137.58" cy="308.9" r="1.99" fill="#4f1c6b"/>
<circle cx="152.27" cy="311.24" r="1.99" fill="#4f1c6b"/>
<circle cx="167.18" cy="309.62" r="1.99" fill="#4f1c6b"/>
<circle cx="182.29" cy="311.6" r="1.99" fill="#4f1c6b"/>
<circle cx="197.62" cy="309.8" r="1.99" fill="#4f1c6b"/>
<circle cx="209.97" cy="308.9" r="1.99" fill="#4f1c6b"/>
<circle cx="240.41" cy="296.84" r="1.99" fill="#4f1c6b"/>
<circle cx="264.04" cy="303.32" r="1.99" fill="#4f1c6b"/>
<circle cx="293.85" cy="304.04" r="1.99" fill="#4f1c6b"/>
<path d="M44.76,311.24 L53.27,305.66 L61.79,308.9 L69.24,307.46 L76.69,309.98 L87.34,301.16 L96.49,314.66 L107.35,307.46 L122.04,312.5 L137.58,319.34 L152.27,313.76 L167.18,311.42 L182.29,311.6 L197.62,289.82 L209.97,295.22 L240.41,248.24" stroke="#4f1c6b" stroke-width="1.35" fill="none" stroke-linejoin="round"/>
<path d="M44.76,308.82 L47.17,313.17 L42.34,313.17 Z" fill="#4f1c6b"/>
<path d="M53.27,303.25 L55.69,307.59 L50.86,307.59 Z" fill="#4f1c6b"/>
<path d="M61.79,306.49 L64.2,310.83 L59.38,310.83 Z" fill="#4f1c6b"/>
<path d="M69.24,305.05 L71.66,309.39 L66.83,309.39 Z" fill="#4f1c6b"/>
<path d="M76.69,307.56 L79.11,311.91 L74.28,311.91 Z" fill="#4f1c6b"/>
<path d="M87.34,298.75 L89.75,303.09 L84.92,303.09 Z" fill="#4f1c6b"/>
<path d="M96.49,312.25 L98.91,316.59 L94.08,316.59 Z" fill="#4f1c6b"/>
<path d="M107.35,305.05 L109.77,309.39 L104.94,309.39 Z" fill="#4f1c6b"/>
<path d="M122.04,310.08 L124.46,314.43 L119.63,314.43 Z" fill="#4f1c6b"/>
<path d="M137.58,316.93 L140,321.27 L135.17,321.27 Z" fill="#4f1c6b"/>
<path d="M152.27,311.34 L154.69,315.69 L149.86,315.69 Z" fill="#4f1c6b"/>
<path d="M167.18,309 L169.59,313.35 L164.76,313.35 Z" fill="#4f1c6b"/>
<path d="M182.29,309.19 L184.71,313.53 L179.88,313.53 Z" fill="#4f1c6b"/>
<path d="M197.62,287.4 L200.04,291.75 L195.21,291.75 Z" fill="#4f1c6b"/>
<path d="M209.97,292.81 L212.38,297.15 L207.55,297.15 Z" fill="#4f1c6b"/>
<path d="M240.41,245.83 L242.83,250.17 L238,250.17 Z" fill="#4f1c6b"/>
<path d="M44.76,311.24 L53.27,302.96 L61.79,306.74 L69.24,310.34 L76.69,302.96 L87.34,303.32 L96.49,299.54 L107.35,305.84 L122.04,306.38 L137.58,306.02 L152.27,299.9 L167.18,306.02 L182.29,311.6 L197.62,307.1 L209.97,306.74 L240.41,299 L264.04,254.72 L293.85,239.06" stroke="#4f1c6b" stroke-width="1.35" fill="none" stroke-linejoin="round"/>
<path d="M44.76,309.14 L46.54,311.24 L44.76,313.34 L42.97,311.24 Z" fill="#4f1c6b"/>
<path d="M53.27,300.86 L55.06,302.96 L53.27,305.06 L51.49,302.96 Z" fill="#4f1c6b"/>
<path d="M61.79,304.64 L63.57,306.74 L61.79,308.84 L60.01,306.74 Z" fill="#4f1c6b"/>
<path d="M69.24,308.24 L71.03,310.34 L69.24,312.44 L67.46,310.34 Z" fill="#4f1c6b"/>
<path d="M76.69,300.86 L78.48,302.96 L76.69,305.06 L74.91,302.96 Z" fill="#4f1c6b"/>
<path d="M87.34,301.22 L89.12,303.32 L87.34,305.42 L85.55,303.32 Z" fill="#4f1c6b"/>
<path d="M96.49,297.44 L98.28,299.54 L96.49,301.64 L94.71,299.54 Z" fill="#4f1c6b"/>
<path d="M107.35,303.74 L109.14,305.84 L107.35,307.94 L105.57,305.84 Z" fill="#4f1c6b"/>
<path d="M122.04,304.28 L123.83,306.38 L122.04,308.48 L120.26,306.38 Z" fill="#4f1c6b"/>
<path d="M137.58,303.92 L139.37,306.02 L137.58,308.12 L135.8,306.02 Z" fill="#4f1c6b"/>
<path d="M152.27,297.8 L154.06,299.9 L152.27,302 L150.49,299.9 Z" fill="#4f1c6b"/>
<path d="M167.18,303.92 L168.96,306.02 L167.18,308.12 L165.39,306.02 Z" fill="#4f1c6b"/>
<path d="M182.29,309.5 L184.08,311.6 L182.29,313.7 L180.51,311.6 Z" fill="#4f1c6b"/>
<path d="M197.62,305 L199.41,307.1 L197.62,309.2 L195.84,307.1 Z" fill="#4f1c6b"/>
<path d="M209.97,304.64 L211.75,306.74 L209.97,308.84 L208.18,306.74 Z" fill="#4f1c6b"/>
<path d="M240.41,296.9 L242.2,299 L240.41,301.1 L238.63,299 Z" fill="#4f1c6b"/>
<path d="M264.04,252.62 L265.83,254.72 L264.04,256.82 L262.26,254.72 Z" fill="#4f1c6b"/>
<path d="M293.85,236.96 L295.64,239.06 L293.85,241.16 L292.07,239.06 Z" fill="#4f1c6b"/>
<path d="M44.76,301.88 L53.27,290.72 L61.79,278.3 L69.24,282.62 L76.69,291.8 L87.34,302.78 L96.49,299.54 L107.35,299.9 L122.04,256.7 L137.58,232.94" stroke="#4f1c6b" stroke-width="1.35" fill="none" stroke-linejoin="round"/>
<rect x="42.87" y="299.99" width="3.78" height="3.78" fill="#4f1c6b"/>
<rect x="51.38" y="288.83" width="3.78" height="3.78" fill="#4f1c6b"/>
<rect x="59.9" y="276.41" width="3.78" height="3.78" fill="#4f1c6b"/>
<rect x="67.35" y="280.73" width="3.78" height="3.78" fill="#4f1c6b"/>
<rect x="74.8" y="289.91" width="3.78" height="3.78" fill="#4f1c6b"/>
<rect x="85.45" y="300.89" width="3.78" height="3.78" fill="#4f1c6b"/>
<rect x="94.6" y="297.65" width="3.78" height="3.78" fill="#4f1c6b"/>
<rect x="105.46" y="298.01" width="3.78" height="3.78" fill="#4f1c6b"/>
<rect x="120.15" y="254.81" width="3.78" height="3.78" fill="#4f1c6b"/>
<rect x="135.69" y="231.05" width="3.78" height="3.78" fill="#4f1c6b"/>
<path d="M44.76,305.3 L53.27,307.1 L61.79,308.9 L69.24,307.1 L76.69,306.2 L87.34,308.9 L96.49,309.44 L107.35,306.38 L122.04,293.06 L137.58,286.4" stroke="#33b24a" stroke-width="1.35" fill="none" stroke-linejoin="round"/>
<rect x="42.87" y="303.41" width="3.78" height="3.78" fill="#33b24a"/>
<rect x="51.38" y="305.21" width="3.78" height="3.78" fill="#33b24a"/>
<rect x="59.9" y="307.01" width="3.78" height="3.78" fill="#33b24a"/>
<rect x="67.35" y="305.21" width="3.78" height="3.78" fill="#33b24a"/>
<rect x="74.8" y="304.31" width="3.78" height="3.78" fill="#33b24a"/>
<rect x="85.45" y="307.01" width="3.78" height="3.78" fill="#33b24a"/>
<rect x="94.6" y="307.55" width="3.78" height="3.78" fill="#33b24a"/>
<rect x="105.46" y="304.49" width="3.78" height="3.78" fill="#33b24a"/>
<rect x="120.15" y="291.17" width="3.78" height="3.78" fill="#33b24a"/>
<rect x="135.69" y="284.51" width="3.78" height="3.78" fill="#33b24a"/>
<path d="M44.76,308.9 L53.27,306.2 L61.79,304.4 L69.24,308.9 L76.69,305.3 L87.34,303.5 L96.49,287.84 L107.35,281.36 L122.04,236.9" stroke="#33b24a" stroke-width="1.35" fill="none" stroke-linejoin="round"/>
<path d="M44.76,306.8 L46.54,308.9 L44.76,311 L42.97,308.9 Z" fill="#33b24a"/>
<path d="M53.27,304.1 L55.06,306.2 L53.27,308.3 L51.49,306.2 Z" fill="#33b24a"/>
<path d="M61.79,302.3 L63.57,304.4 L61.79,306.5 L60.01,304.4 Z" fill="#33b24a"/>
<path d="M69.24,306.8 L71.03,308.9 L69.24,311 L67.46,308.9 Z" fill="#33b24a"/>
<path d="M76.69,303.2 L78.48,305.3 L76.69,307.4 L74.91,305.3 Z" fill="#33b24a"/>
<path d="M87.34,301.4 L89.12,303.5 L87.34,305.6 L85.55,303.5 Z" fill="#33b24a"/>
<path d="M96.49,285.74 L98.28,287.84 L96.49,289.94 L94.71,287.84 Z" fill="#33b24a"/>
<path d="M107.35,279.26 L109.14,281.36 L107.35,283.46 L105.57,281.36 Z" fill="#33b24a"/>
<path d="M122.04,234.8 L123.83,236.9 L122.04,239 L120.26,236.9 Z" fill="#33b24a"/>
<path d="M44.76,306.2 L53.27,304.4 L61.79,308 L69.24,304.4 L76.69,302.6 L87.34,285.68 L96.49,276.5 L107.35,252.74" stroke="#33b24a" stroke-width="1.35" fill="none" stroke-linejoin="round"/>
<circle cx="44.76" cy="306.2" r="1.99" fill="#33b24a"/>
<circle cx="53.27" cy="304.4" r="1.99" fill="#33b24a"/>
<circle cx="61.79" cy="308" r="1.99" fill="#33b24a"/>
<circle cx="69.24" cy="304.4" r="1.99" fill="#33b24a"/>
<circle cx="76.69" cy="302.6" r="1.99" fill="#33b24a"/>
<circle cx="87.34" cy="285.68" r="1.99" fill="#33b24a"/>
<circle cx="96.49" cy="276.5" r="1.99" fill="#33b24a"/>
<circle cx="107.35" cy="252.74" r="1.99" fill="#33b24a"/>
<path d="M44.76,307.1 L53.27,303.5 L61.79,294.5 L69.24,283.7 L76.69,269.3 L87.34,245.18" stroke="#33b24a" stroke-width="1.35" fill="none" stroke-linejoin="round"/>
<path d="M44.76,304.69 L47.17,309.03 L42.34,309.03 Z" fill="#33b24a"/>
<path d="M53.27,301.08 L55.69,305.43 L50.86,305.43 Z" fill="#33b24a"/>
<path d="M61.79,292.08 L64.2,296.43 L59.38,296.43 Z" fill="#33b24a"/>
<path d="M69.24,281.28 L71.66,285.63 L66.83,285.63 Z" fill="#33b24a"/>
<path d="M76.69,266.88 L79.11,271.23 L74.28,271.23 Z" fill="#33b24a"/>
<path d="M87.34,242.77 L89.75,247.11 L84.92,247.11 Z" fill="#33b24a"/>
<path d="M44.76,301.7 L53.27,299.9 L61.79,304.4 L69.24,298.1 L76.69,285.5 L87.34,263.72 L96.49,237.26 L107.35,245.54" stroke="#134c88" stroke-width="1.35" fill="none" stroke-linejoin="round"/>
<rect x="42.87" y="299.81" width="3.78" height="3.78" fill="#134c88"/>
<rect x="51.38" y="298.01" width="3.78" height="3.78" fill="#134c88"/>
<rect x="59.9" y="302.51" width="3.78" height="3.78" fill="#134c88"/>
<rect x="67.35" y="296.21" width="3.78" height="3.78" fill="#134c88"/>
<rect x="74.8" y="283.61" width="3.78" height="3.78" fill="#134c88"/>
<rect x="85.45" y="261.83" width="3.78" height="3.78" fill="#134c88"/>
<rect x="94.6" y="235.37" width="3.78" height="3.78" fill="#134c88"/>
<rect x="105.46" y="243.65" width="3.78" height="3.78" fill="#134c88"/>
<path d="M44.76,307.1 L53.27,305.3 L61.79,308.9 L69.24,289.64 L76.69,296.3 L87.34,271.1 L96.49,264.8 L107.35,239.96" stroke="#134c88" stroke-width="1.35" fill="none" stroke-linejoin="round"/>
<path d="M44.76,304.69 L47.17,309.03 L42.34,309.03 Z" fill="#134c88"/>
<path d="M53.27,302.88 L55.69,307.23 L50.86,307.23 Z" fill="#134c88"/>
<path d="M61.79,306.49 L64.2,310.83 L59.38,310.83 Z" fill="#134c88"/>
<path d="M69.24,287.22 L71.66,291.57 L66.83,291.57 Z" fill="#134c88"/>
<path d="M76.69,293.88 L79.11,298.23 L74.28,298.23 Z" fill="#134c88"/>
<path d="M87.34,268.69 L89.75,273.03 L84.92,273.03 Z" fill="#134c88"/>
<path d="M96.49,262.38 L98.91,266.73 L94.08,266.73 Z" fill="#134c88"/>
<path d="M107.35,237.55 L109.77,241.89 L104.94,241.89 Z" fill="#134c88"/>
<path d="M44.76,305.3 L53.27,302.6 L61.79,292.7 L69.24,275.6 L76.69,251.84" stroke="#134c88" stroke-width="1.35" fill="none" stroke-linejoin="round"/>
<circle cx="44.76" cy="305.3" r="1.99" fill="#134c88"/>
<circle cx="53.27" cy="302.6" r="1.99" fill="#134c88"/>
<circle cx="61.79" cy="292.7" r="1.99" fill="#134c88"/>
<circle cx="69.24" cy="275.6" r="1.99" fill="#134c88"/>
<circle cx="76.69" cy="251.84" r="1.99" fill="#134c88"/>
<path d="M44.76,308.9 L53.27,301.7 L61.79,294.5 L69.24,287.66 L76.69,276.14" stroke="#c8163c" stroke-width="1.35" fill="none" stroke-linejoin="round"/>
<rect x="42.87" y="307.01" width="3.78" height="3.78" fill="#c8163c"/>
<rect x="51.38" y="299.81" width="3.78" height="3.78" fill="#c8163c"/>
<rect x="59.9" y="292.61" width="3.78" height="3.78" fill="#c8163c"/>
<rect x="67.35" y="285.77" width="3.78" height="3.78" fill="#c8163c"/>
<rect x="74.8" y="274.25" width="3.78" height="3.78" fill="#c8163c"/>
<path d="M44.76,305.3 L53.27,298.1 L61.79,285.5 L69.24,274.7 L76.69,262.1" stroke="#c8163c" stroke-width="1.35" fill="none" stroke-linejoin="round"/>
<path d="M44.76,302.88 L47.17,307.23 L42.34,307.23 Z" fill="#c8163c"/>
<path d="M53.27,295.69 L55.69,300.03 L50.86,300.03 Z" fill="#c8163c"/>
<path d="M61.79,283.08 L64.2,287.43 L59.38,287.43 Z" fill="#c8163c"/>
<path d="M69.24,272.28 L71.66,276.63 L66.83,276.63 Z" fill="#c8163c"/>
<path d="M76.69,259.69 L79.11,264.03 L74.28,264.03 Z" fill="#c8163c"/>
<path d="M44.76,303.5 L53.27,297.2 L61.79,288.56 L69.24,280.1 L76.69,267.32" stroke="#c8163c" stroke-width="1.35" fill="none" stroke-linejoin="round"/>
<circle cx="44.76" cy="303.5" r="1.99" fill="#c8163c"/>
<circle cx="53.27" cy="297.2" r="1.99" fill="#c8163c"/>
<circle cx="61.79" cy="288.56" r="1.99" fill="#c8163c"/>
<circle cx="69.24" cy="280.1" r="1.99" fill="#c8163c"/>
<circle cx="76.69" cy="267.32" r="1.99" fill="#c8163c"/>
<path d="M44.76,293.78 L53.27,290.9 L61.79,280.28 L69.24,272 L76.69,256.34" stroke="#c8163c" stroke-width="1.35" fill="none" stroke-linejoin="round"/>
<path d="M44.76,291.68 L46.54,293.78 L44.76,295.88 L42.97,293.78 Z" fill="#c8163c"/>
<path d="M53.27,288.8 L55.06,290.9 L53.27,293 L51.49,290.9 Z" fill="#c8163c"/>
<path d="M61.79,278.18 L63.57,280.28 L61.79,282.38 L60.01,280.28 Z" fill="#c8163c"/>
<path d="M69.24,269.9 L71.03,272 L69.24,274.1 L67.46,272 Z" fill="#c8163c"/>
<path d="M76.69,254.24 L78.48,256.34 L76.69,258.44 L74.91,256.34 Z" fill="#c8163c"/>
<text x="311" y="213.4" font-size="6.3" fill="#1e1e1e" stroke="#1e1e1e" stroke-width="0.12">*</text>
<text x="316.2" y="213.8" font-size="6.3" fill="#1e1e1e" stroke="#1e1e1e" stroke-width="0.12" textLength="41.1" lengthAdjust="spacingAndGlyphs">SGN70A300x3</text>
<line x1="331.7" y1="226.2" x2="331.7" y2="314" stroke="#1a1a1a" stroke-width="1.3"/>
<line x1="331.1" y1="313.5" x2="513.2" y2="313.5" stroke="#1a1a1a" stroke-width="1.3"/>
<line x1="328.5" y1="292" x2="331.7" y2="292" stroke="#1a1a1a" stroke-width="1.1"/>
<text x="325.8" y="294.8" font-size="7.4" text-anchor="end" fill="#1e1e1e">10<tspan font-size="4.6" dy="-2.4">2</tspan></text>
<line x1="328.5" y1="260.7" x2="331.7" y2="260.7" stroke="#1a1a1a" stroke-width="1.1"/>
<text x="325.8" y="263.5" font-size="7.4" text-anchor="end" fill="#1e1e1e">10<tspan font-size="4.6" dy="-2.4">3</tspan></text>
<line x1="328.5" y1="229.4" x2="331.7" y2="229.4" stroke="#1a1a1a" stroke-width="1.1"/>
<text x="325.8" y="232.2" font-size="7.4" text-anchor="end" fill="#1e1e1e">10<tspan font-size="4.6" dy="-2.4">4</tspan></text>
<line x1="329.8" y1="308.37" x2="331.7" y2="308.37" stroke="#1a1a1a" stroke-width="0.8"/>
<line x1="329.8" y1="304.46" x2="331.7" y2="304.46" stroke="#1a1a1a" stroke-width="0.8"/>
<line x1="329.8" y1="301.42" x2="331.7" y2="301.42" stroke="#1a1a1a" stroke-width="0.8"/>
<line x1="329.8" y1="298.94" x2="331.7" y2="298.94" stroke="#1a1a1a" stroke-width="0.8"/>
<line x1="329.8" y1="296.85" x2="331.7" y2="296.85" stroke="#1a1a1a" stroke-width="0.8"/>
<line x1="329.8" y1="295.03" x2="331.7" y2="295.03" stroke="#1a1a1a" stroke-width="0.8"/>
<line x1="329.8" y1="293.43" x2="331.7" y2="293.43" stroke="#1a1a1a" stroke-width="0.8"/>
<line x1="329.8" y1="282.58" x2="331.7" y2="282.58" stroke="#1a1a1a" stroke-width="0.8"/>
<line x1="329.8" y1="277.07" x2="331.7" y2="277.07" stroke="#1a1a1a" stroke-width="0.8"/>
<line x1="329.8" y1="273.16" x2="331.7" y2="273.16" stroke="#1a1a1a" stroke-width="0.8"/>
<line x1="329.8" y1="270.12" x2="331.7" y2="270.12" stroke="#1a1a1a" stroke-width="0.8"/>
<line x1="329.8" y1="267.64" x2="331.7" y2="267.64" stroke="#1a1a1a" stroke-width="0.8"/>
<line x1="329.8" y1="265.55" x2="331.7" y2="265.55" stroke="#1a1a1a" stroke-width="0.8"/>
<line x1="329.8" y1="263.73" x2="331.7" y2="263.73" stroke="#1a1a1a" stroke-width="0.8"/>
<line x1="329.8" y1="262.13" x2="331.7" y2="262.13" stroke="#1a1a1a" stroke-width="0.8"/>
<line x1="329.8" y1="251.28" x2="331.7" y2="251.28" stroke="#1a1a1a" stroke-width="0.8"/>
<line x1="329.8" y1="245.77" x2="331.7" y2="245.77" stroke="#1a1a1a" stroke-width="0.8"/>
<line x1="329.8" y1="241.86" x2="331.7" y2="241.86" stroke="#1a1a1a" stroke-width="0.8"/>
<line x1="329.8" y1="238.82" x2="331.7" y2="238.82" stroke="#1a1a1a" stroke-width="0.8"/>
<line x1="329.8" y1="236.34" x2="331.7" y2="236.34" stroke="#1a1a1a" stroke-width="0.8"/>
<line x1="329.8" y1="234.25" x2="331.7" y2="234.25" stroke="#1a1a1a" stroke-width="0.8"/>
<line x1="329.8" y1="232.43" x2="331.7" y2="232.43" stroke="#1a1a1a" stroke-width="0.8"/>
<line x1="329.8" y1="230.83" x2="331.7" y2="230.83" stroke="#1a1a1a" stroke-width="0.8"/>
<line x1="334.4" y1="313.5" x2="334.4" y2="316" stroke="#1a1a1a" stroke-width="0.8"/>
<line x1="337.22" y1="313.5" x2="337.22" y2="315.2" stroke="#1a1a1a" stroke-width="0.8"/>
<line x1="340.05" y1="313.5" x2="340.05" y2="316" stroke="#1a1a1a" stroke-width="0.8"/>
<line x1="342.87" y1="313.5" x2="342.87" y2="315.2" stroke="#1a1a1a" stroke-width="0.8"/>
<line x1="345.7" y1="313.5" x2="345.7" y2="316" stroke="#1a1a1a" stroke-width="0.8"/>
<line x1="348.52" y1="313.5" x2="348.52" y2="315.2" stroke="#1a1a1a" stroke-width="0.8"/>
<line x1="351.34" y1="313.5" x2="351.34" y2="316" stroke="#1a1a1a" stroke-width="0.8"/>
<line x1="354.17" y1="313.5" x2="354.17" y2="315.2" stroke="#1a1a1a" stroke-width="0.8"/>
<line x1="356.99" y1="313.5" x2="356.99" y2="316" stroke="#1a1a1a" stroke-width="0.8"/>
<line x1="359.82" y1="313.5" x2="359.82" y2="315.2" stroke="#1a1a1a" stroke-width="0.8"/>
<line x1="362.64" y1="313.5" x2="362.64" y2="316" stroke="#1a1a1a" stroke-width="0.8"/>
<line x1="365.46" y1="313.5" x2="365.46" y2="315.2" stroke="#1a1a1a" stroke-width="0.8"/>
<line x1="368.29" y1="313.5" x2="368.29" y2="316" stroke="#1a1a1a" stroke-width="0.8"/>
<line x1="371.11" y1="313.5" x2="371.11" y2="315.2" stroke="#1a1a1a" stroke-width="0.8"/>
<line x1="373.94" y1="313.5" x2="373.94" y2="316" stroke="#1a1a1a" stroke-width="0.8"/>
<line x1="376.76" y1="313.5" x2="376.76" y2="315.2" stroke="#1a1a1a" stroke-width="0.8"/>
<line x1="379.58" y1="313.5" x2="379.58" y2="316" stroke="#1a1a1a" stroke-width="0.8"/>
<line x1="382.41" y1="313.5" x2="382.41" y2="315.2" stroke="#1a1a1a" stroke-width="0.8"/>
<line x1="385.23" y1="313.5" x2="385.23" y2="316" stroke="#1a1a1a" stroke-width="0.8"/>
<line x1="388.06" y1="313.5" x2="388.06" y2="315.2" stroke="#1a1a1a" stroke-width="0.8"/>
<line x1="390.88" y1="313.5" x2="390.88" y2="316" stroke="#1a1a1a" stroke-width="0.8"/>
<line x1="393.7" y1="313.5" x2="393.7" y2="315.2" stroke="#1a1a1a" stroke-width="0.8"/>
<line x1="396.53" y1="313.5" x2="396.53" y2="316" stroke="#1a1a1a" stroke-width="0.8"/>
<line x1="399.35" y1="313.5" x2="399.35" y2="315.2" stroke="#1a1a1a" stroke-width="0.8"/>
<line x1="402.18" y1="313.5" x2="402.18" y2="316" stroke="#1a1a1a" stroke-width="0.8"/>
<line x1="405" y1="313.5" x2="405" y2="315.2" stroke="#1a1a1a" stroke-width="0.8"/>
<line x1="407.82" y1="313.5" x2="407.82" y2="316" stroke="#1a1a1a" stroke-width="0.8"/>
<line x1="410.65" y1="313.5" x2="410.65" y2="315.2" stroke="#1a1a1a" stroke-width="0.8"/>
<line x1="413.47" y1="313.5" x2="413.47" y2="316" stroke="#1a1a1a" stroke-width="0.8"/>
<line x1="416.3" y1="313.5" x2="416.3" y2="315.2" stroke="#1a1a1a" stroke-width="0.8"/>
<line x1="419.12" y1="313.5" x2="419.12" y2="316" stroke="#1a1a1a" stroke-width="0.8"/>
<line x1="421.94" y1="313.5" x2="421.94" y2="315.2" stroke="#1a1a1a" stroke-width="0.8"/>
<line x1="424.77" y1="313.5" x2="424.77" y2="316" stroke="#1a1a1a" stroke-width="0.8"/>
<line x1="427.59" y1="313.5" x2="427.59" y2="315.2" stroke="#1a1a1a" stroke-width="0.8"/>
<line x1="430.42" y1="313.5" x2="430.42" y2="316" stroke="#1a1a1a" stroke-width="0.8"/>
<line x1="433.24" y1="313.5" x2="433.24" y2="315.2" stroke="#1a1a1a" stroke-width="0.8"/>
<line x1="436.06" y1="313.5" x2="436.06" y2="316" stroke="#1a1a1a" stroke-width="0.8"/>
<line x1="438.89" y1="313.5" x2="438.89" y2="315.2" stroke="#1a1a1a" stroke-width="0.8"/>
<line x1="441.71" y1="313.5" x2="441.71" y2="316" stroke="#1a1a1a" stroke-width="0.8"/>
<line x1="444.54" y1="313.5" x2="444.54" y2="315.2" stroke="#1a1a1a" stroke-width="0.8"/>
<line x1="447.36" y1="313.5" x2="447.36" y2="316" stroke="#1a1a1a" stroke-width="0.8"/>
<line x1="450.18" y1="313.5" x2="450.18" y2="315.2" stroke="#1a1a1a" stroke-width="0.8"/>
<line x1="453.01" y1="313.5" x2="453.01" y2="316" stroke="#1a1a1a" stroke-width="0.8"/>
<line x1="455.83" y1="313.5" x2="455.83" y2="315.2" stroke="#1a1a1a" stroke-width="0.8"/>
<line x1="458.66" y1="313.5" x2="458.66" y2="316" stroke="#1a1a1a" stroke-width="0.8"/>
<line x1="461.48" y1="313.5" x2="461.48" y2="315.2" stroke="#1a1a1a" stroke-width="0.8"/>
<line x1="464.3" y1="313.5" x2="464.3" y2="316" stroke="#1a1a1a" stroke-width="0.8"/>
<line x1="467.13" y1="313.5" x2="467.13" y2="315.2" stroke="#1a1a1a" stroke-width="0.8"/>
<line x1="469.95" y1="313.5" x2="469.95" y2="316" stroke="#1a1a1a" stroke-width="0.8"/>
<line x1="472.78" y1="313.5" x2="472.78" y2="315.2" stroke="#1a1a1a" stroke-width="0.8"/>
<line x1="475.6" y1="313.5" x2="475.6" y2="316" stroke="#1a1a1a" stroke-width="0.8"/>
<line x1="478.42" y1="313.5" x2="478.42" y2="315.2" stroke="#1a1a1a" stroke-width="0.8"/>
<line x1="481.25" y1="313.5" x2="481.25" y2="316" stroke="#1a1a1a" stroke-width="0.8"/>
<line x1="484.07" y1="313.5" x2="484.07" y2="315.2" stroke="#1a1a1a" stroke-width="0.8"/>
<line x1="486.9" y1="313.5" x2="486.9" y2="316" stroke="#1a1a1a" stroke-width="0.8"/>
<line x1="489.72" y1="313.5" x2="489.72" y2="315.2" stroke="#1a1a1a" stroke-width="0.8"/>
<line x1="492.54" y1="313.5" x2="492.54" y2="316" stroke="#1a1a1a" stroke-width="0.8"/>
<line x1="495.37" y1="313.5" x2="495.37" y2="315.2" stroke="#1a1a1a" stroke-width="0.8"/>
<line x1="498.19" y1="313.5" x2="498.19" y2="316" stroke="#1a1a1a" stroke-width="0.8"/>
<line x1="501.02" y1="313.5" x2="501.02" y2="315.2" stroke="#1a1a1a" stroke-width="0.8"/>
<line x1="503.84" y1="313.5" x2="503.84" y2="316" stroke="#1a1a1a" stroke-width="0.8"/>
<line x1="506.66" y1="313.5" x2="506.66" y2="315.2" stroke="#1a1a1a" stroke-width="0.8"/>
<line x1="509.49" y1="313.5" x2="509.49" y2="316" stroke="#1a1a1a" stroke-width="0.8"/>
<text transform="translate(336.6 319.6) rotate(-90)" x="0" y="0" font-size="6.4" text-anchor="end" fill="#1e1e1e" stroke="#1e1e1e" stroke-width="0.02" textLength="3.5" lengthAdjust="spacingAndGlyphs">4</text>
<text transform="translate(342.25 319.6) rotate(-90)" x="0" y="0" font-size="6.4" text-anchor="end" fill="#1e1e1e" stroke="#1e1e1e" stroke-width="0.02" textLength="3.5" lengthAdjust="spacingAndGlyphs">6</text>
<text transform="translate(347.9 319.6) rotate(-90)" x="0" y="0" font-size="6.4" text-anchor="end" fill="#1e1e1e" stroke="#1e1e1e" stroke-width="0.02" textLength="3.5" lengthAdjust="spacingAndGlyphs">8</text>
<text transform="translate(353.54 319.6) rotate(-90)" x="0" y="0" font-size="6.4" text-anchor="end" fill="#1e1e1e" stroke="#1e1e1e" stroke-width="0.02" textLength="7" lengthAdjust="spacingAndGlyphs">10</text>
<text transform="translate(359.19 319.6) rotate(-90)" x="0" y="0" font-size="6.4" text-anchor="end" fill="#1e1e1e" stroke="#1e1e1e" stroke-width="0.02" textLength="7" lengthAdjust="spacingAndGlyphs">12</text>
<text transform="translate(364.84 319.6) rotate(-90)" x="0" y="0" font-size="6.4" text-anchor="end" fill="#1e1e1e" stroke="#1e1e1e" stroke-width="0.02" textLength="7" lengthAdjust="spacingAndGlyphs">14</text>
<text transform="translate(370.49 319.6) rotate(-90)" x="0" y="0" font-size="6.4" text-anchor="end" fill="#1e1e1e" stroke="#1e1e1e" stroke-width="0.02" textLength="7" lengthAdjust="spacingAndGlyphs">16</text>
<text transform="translate(376.14 319.6) rotate(-90)" x="0" y="0" font-size="6.4" text-anchor="end" fill="#1e1e1e" stroke="#1e1e1e" stroke-width="0.02" textLength="7" lengthAdjust="spacingAndGlyphs">18</text>
<text transform="translate(381.78 319.6) rotate(-90)" x="0" y="0" font-size="6.4" text-anchor="end" fill="#1e1e1e" stroke="#1e1e1e" stroke-width="0.02" textLength="7" lengthAdjust="spacingAndGlyphs">20</text>
<text transform="translate(387.43 319.6) rotate(-90)" x="0" y="0" font-size="6.4" text-anchor="end" fill="#1e1e1e" stroke="#1e1e1e" stroke-width="0.02" textLength="7" lengthAdjust="spacingAndGlyphs">22</text>
<text transform="translate(393.08 319.6) rotate(-90)" x="0" y="0" font-size="6.4" text-anchor="end" fill="#1e1e1e" stroke="#1e1e1e" stroke-width="0.02" textLength="7" lengthAdjust="spacingAndGlyphs">24</text>
<text transform="translate(398.73 319.6) rotate(-90)" x="0" y="0" font-size="6.4" text-anchor="end" fill="#1e1e1e" stroke="#1e1e1e" stroke-width="0.02" textLength="7" lengthAdjust="spacingAndGlyphs">26</text>
<text transform="translate(404.38 319.6) rotate(-90)" x="0" y="0" font-size="6.4" text-anchor="end" fill="#1e1e1e" stroke="#1e1e1e" stroke-width="0.02" textLength="7" lengthAdjust="spacingAndGlyphs">28</text>
<text transform="translate(410.02 319.6) rotate(-90)" x="0" y="0" font-size="6.4" text-anchor="end" fill="#1e1e1e" stroke="#1e1e1e" stroke-width="0.02" textLength="7" lengthAdjust="spacingAndGlyphs">30</text>
<text transform="translate(415.67 319.6) rotate(-90)" x="0" y="0" font-size="6.4" text-anchor="end" fill="#1e1e1e" stroke="#1e1e1e" stroke-width="0.02" textLength="7" lengthAdjust="spacingAndGlyphs">32</text>
<text transform="translate(421.32 319.6) rotate(-90)" x="0" y="0" font-size="6.4" text-anchor="end" fill="#1e1e1e" stroke="#1e1e1e" stroke-width="0.02" textLength="7" lengthAdjust="spacingAndGlyphs">34</text>
<text transform="translate(426.97 319.6) rotate(-90)" x="0" y="0" font-size="6.4" text-anchor="end" fill="#1e1e1e" stroke="#1e1e1e" stroke-width="0.02" textLength="7" lengthAdjust="spacingAndGlyphs">36</text>
<text transform="translate(432.62 319.6) rotate(-90)" x="0" y="0" font-size="6.4" text-anchor="end" fill="#1e1e1e" stroke="#1e1e1e" stroke-width="0.02" textLength="7" lengthAdjust="spacingAndGlyphs">38</text>
<text transform="translate(438.26 319.6) rotate(-90)" x="0" y="0" font-size="6.4" text-anchor="end" fill="#1e1e1e" stroke="#1e1e1e" stroke-width="0.02" textLength="7" lengthAdjust="spacingAndGlyphs">40</text>
<text transform="translate(443.91 319.6) rotate(-90)" x="0" y="0" font-size="6.4" text-anchor="end" fill="#1e1e1e" stroke="#1e1e1e" stroke-width="0.02" textLength="7" lengthAdjust="spacingAndGlyphs">42</text>
<text transform="translate(449.56 319.6) rotate(-90)" x="0" y="0" font-size="6.4" text-anchor="end" fill="#1e1e1e" stroke="#1e1e1e" stroke-width="0.02" textLength="7" lengthAdjust="spacingAndGlyphs">44</text>
<text transform="translate(455.21 319.6) rotate(-90)" x="0" y="0" font-size="6.4" text-anchor="end" fill="#1e1e1e" stroke="#1e1e1e" stroke-width="0.02" textLength="7" lengthAdjust="spacingAndGlyphs">46</text>
<text transform="translate(460.86 319.6) rotate(-90)" x="0" y="0" font-size="6.4" text-anchor="end" fill="#1e1e1e" stroke="#1e1e1e" stroke-width="0.02" textLength="7" lengthAdjust="spacingAndGlyphs">48</text>
<text transform="translate(466.5 319.6) rotate(-90)" x="0" y="0" font-size="6.4" text-anchor="end" fill="#1e1e1e" stroke="#1e1e1e" stroke-width="0.02" textLength="7" lengthAdjust="spacingAndGlyphs">50</text>
<text transform="translate(472.15 319.6) rotate(-90)" x="0" y="0" font-size="6.4" text-anchor="end" fill="#1e1e1e" stroke="#1e1e1e" stroke-width="0.02" textLength="7" lengthAdjust="spacingAndGlyphs">52</text>
<text transform="translate(477.8 319.6) rotate(-90)" x="0" y="0" font-size="6.4" text-anchor="end" fill="#1e1e1e" stroke="#1e1e1e" stroke-width="0.02" textLength="7" lengthAdjust="spacingAndGlyphs">54</text>
<text transform="translate(483.45 319.6) rotate(-90)" x="0" y="0" font-size="6.4" text-anchor="end" fill="#1e1e1e" stroke="#1e1e1e" stroke-width="0.02" textLength="7" lengthAdjust="spacingAndGlyphs">56</text>
<text transform="translate(489.1 319.6) rotate(-90)" x="0" y="0" font-size="6.4" text-anchor="end" fill="#1e1e1e" stroke="#1e1e1e" stroke-width="0.02" textLength="7" lengthAdjust="spacingAndGlyphs">58</text>
<text transform="translate(494.74 319.6) rotate(-90)" x="0" y="0" font-size="6.4" text-anchor="end" fill="#1e1e1e" stroke="#1e1e1e" stroke-width="0.02" textLength="7" lengthAdjust="spacingAndGlyphs">60</text>
<text transform="translate(500.39 319.6) rotate(-90)" x="0" y="0" font-size="6.4" text-anchor="end" fill="#1e1e1e" stroke="#1e1e1e" stroke-width="0.02" textLength="7" lengthAdjust="spacingAndGlyphs">62</text>
<text transform="translate(506.04 319.6) rotate(-90)" x="0" y="0" font-size="6.4" text-anchor="end" fill="#1e1e1e" stroke="#1e1e1e" stroke-width="0.02" textLength="7" lengthAdjust="spacingAndGlyphs">64</text>
<text transform="translate(511.69 319.6) rotate(-90)" x="0" y="0" font-size="6.4" text-anchor="end" fill="#1e1e1e" stroke="#1e1e1e" stroke-width="0.02" textLength="7" lengthAdjust="spacingAndGlyphs">66</text>
<text transform="translate(308.4 270.5) rotate(-90)" x="0" y="0" font-size="8.8" text-anchor="middle" fill="#1e1e1e" stroke="#1e1e1e" stroke-width="0.35" textLength="43" lengthAdjust="spacingAndGlyphs">cfDNA (pg/mL)</text>
<text x="390.6" y="339.4" font-size="8.8" fill="#1e1e1e" stroke="#1e1e1e" stroke-width="0.35" textLength="63.4" lengthAdjust="spacingAndGlyphs">Days post implantation</text>
<line x1="342.9" y1="228" x2="342.9" y2="313.2" stroke="#e0405f" stroke-width="1" stroke-dasharray="1.3 1.3"/>
<text x="342.9" y="224.8" font-size="6.9" text-anchor="middle" fill="#c8163c" stroke="#c8163c" stroke-width="0.12">1st</text>
<line x1="362.6" y1="228" x2="362.6" y2="313.2" stroke="#e0405f" stroke-width="1" stroke-dasharray="1.3 1.3"/>
<text x="362.6" y="224.8" font-size="6.9" text-anchor="middle" fill="#c8163c" stroke="#c8163c" stroke-width="0.12">2nd</text>
<line x1="382.3" y1="228" x2="382.3" y2="313.2" stroke="#e0405f" stroke-width="1" stroke-dasharray="1.3 1.3"/>
<text x="382.3" y="224.8" font-size="6.9" text-anchor="middle" fill="#c8163c" stroke="#c8163c" stroke-width="0.12">3rd</text>
<path d="M338.7,270.2 L351.2,251.3 L363.1,230 L374.6,236.9 L382.9,254.2 L396.3,271.9 L408.5,271.2 L422.3,267.1 L435.5,229" stroke="#000" stroke-width="1.2" fill="none" stroke-linejoin="round" stroke-dasharray="1.6 1.2"/>
<rect x="336.99" y="268.49" width="3.42" height="3.42" fill="#e8899d"/>
<rect x="349.49" y="249.59" width="3.42" height="3.42" fill="#e8899d"/>
<rect x="361.39" y="228.29" width="3.42" height="3.42" fill="#e8899d"/>
<rect x="372.89" y="235.19" width="3.42" height="3.42" fill="#e8899d"/>
<rect x="381.19" y="252.49" width="3.42" height="3.42" fill="#e8899d"/>
<rect x="394.59" y="270.19" width="3.42" height="3.42" fill="#e8899d"/>
<rect x="406.79" y="269.49" width="3.42" height="3.42" fill="#e8899d"/>
<rect x="420.59" y="265.39" width="3.42" height="3.42" fill="#e8899d"/>
<path d="M338.7,271.3 L350.8,267.1 L363.1,253.1 L374.6,266.2 L382.9,279.6 L396.3,280.6 L408.5,266.5 L422.3,278 L462.1,282.6 L481.7,286.7 L501.9,284" stroke="#000" stroke-width="1.3" fill="none" stroke-linejoin="round"/>
<circle cx="338.7" cy="271.3" r="1.8" fill="#e8899d"/>
<circle cx="350.8" cy="267.1" r="1.8" fill="#e8899d"/>
<circle cx="363.1" cy="253.1" r="1.8" fill="#e8899d"/>
<circle cx="374.6" cy="266.2" r="1.8" fill="#e8899d"/>
<circle cx="382.9" cy="279.6" r="1.8" fill="#e8899d"/>
<circle cx="396.3" cy="280.6" r="1.8" fill="#e8899d"/>
<circle cx="408.5" cy="266.5" r="1.8" fill="#e8899d"/>
<circle cx="422.3" cy="278" r="1.8" fill="#e8899d"/>
<circle cx="462.1" cy="282.6" r="1.8" fill="#e8899d"/>
<circle cx="481.7" cy="286.7" r="1.8" fill="#e8899d"/>
<circle cx="501.9" cy="284" r="1.8" fill="#e8899d"/>
<path d="M338.7,286.7 L350.8,277.1 L363.1,282.5 L374.6,280 L382.9,284.4 L396.3,269 L408.5,292.7 L422.3,280.2 L462.1,300.8 L481.7,291.1 L501.9,287.1" stroke="#c8163c" stroke-width="1.3" fill="none" stroke-linejoin="round"/>
<path d="M338.7,284.51 L340.88,288.45 L336.51,288.45 Z" fill="#c8163c"/>
<path d="M350.8,274.92 L352.99,278.85 L348.62,278.85 Z" fill="#c8163c"/>
<path d="M363.1,280.31 L365.29,284.25 L360.92,284.25 Z" fill="#c8163c"/>
<path d="M374.6,277.81 L376.79,281.75 L372.42,281.75 Z" fill="#c8163c"/>
<path d="M382.9,282.21 L385.08,286.15 L380.71,286.15 Z" fill="#c8163c"/>
<path d="M396.3,266.81 L398.49,270.75 L394.12,270.75 Z" fill="#c8163c"/>
<path d="M408.5,290.51 L410.69,294.45 L406.31,294.45 Z" fill="#c8163c"/>
<path d="M422.3,278.01 L424.49,281.95 L420.12,281.95 Z" fill="#c8163c"/>
<path d="M462.1,298.62 L464.29,302.55 L459.92,302.55 Z" fill="#c8163c"/>
<path d="M481.7,288.92 L483.88,292.85 L479.51,292.85 Z" fill="#c8163c"/>
<path d="M501.9,284.92 L504.08,288.85 L499.71,288.85 Z" fill="#c8163c"/>
<path d="M338.7,286.7 L350.8,272.3 L363.1,278.7 L374.6,285 L382.9,272.3 L396.3,272.9 L408.5,266.2 L422.3,278 L462.1,277.6 L481.7,267.1 L501.9,277.6" stroke="#000" stroke-width="1.3" fill="none" stroke-linejoin="round"/>
<path d="M338.7,284.8 L340.31,286.7 L338.7,288.6 L337.08,286.7 Z" fill="#c8163c"/>
<path d="M350.8,270.4 L352.42,272.3 L350.8,274.2 L349.19,272.3 Z" fill="#c8163c"/>
<path d="M363.1,276.8 L364.72,278.7 L363.1,280.6 L361.49,278.7 Z" fill="#c8163c"/>
<path d="M374.6,283.1 L376.22,285 L374.6,286.9 L372.99,285 Z" fill="#c8163c"/>
<path d="M382.9,270.4 L384.51,272.3 L382.9,274.2 L381.28,272.3 Z" fill="#c8163c"/>
<path d="M396.3,271 L397.92,272.9 L396.3,274.8 L394.69,272.9 Z" fill="#c8163c"/>
<path d="M408.5,264.3 L410.12,266.2 L408.5,268.1 L406.88,266.2 Z" fill="#c8163c"/>
<path d="M422.3,276.1 L423.92,278 L422.3,279.9 L420.69,278 Z" fill="#c8163c"/>
<path d="M462.1,275.7 L463.72,277.6 L462.1,279.5 L460.49,277.6 Z" fill="#c8163c"/>
<path d="M481.7,265.2 L483.31,267.1 L481.7,269 L480.08,267.1 Z" fill="#c8163c"/>
<path d="M501.9,275.7 L503.51,277.6 L501.9,279.5 L500.28,277.6 Z" fill="#c8163c"/>
<text x="475.15" y="225.6" font-size="6.4" text-anchor="middle" fill="#1e1e1e" stroke="#1e1e1e" stroke-width="0.12" textLength="45.9" lengthAdjust="spacingAndGlyphs">SGN70A300x3</text>
<line x1="452.2" y1="228.2" x2="498.1" y2="228.2" stroke="#6a6a6a" stroke-width="1.5"/>
<line x1="461.2" y1="234" x2="471" y2="234" stroke="#000" stroke-width="1.3"/>
<circle cx="466.1" cy="234" r="1.8" fill="#e8899d"/>
<text x="476.7" y="236.3" font-size="6.4" fill="#1e1e1e" stroke="#1e1e1e" stroke-width="0.12" textLength="11.2" lengthAdjust="spacingAndGlyphs">#21</text>
<line x1="461.2" y1="240.17" x2="471" y2="240.17" stroke="#000" stroke-width="1.3" stroke-dasharray="1.2 1.0"/>
<rect x="464.39" y="238.46" width="3.42" height="3.42" fill="#e8899d"/>
<text x="476.7" y="242.47" font-size="6.4" fill="#1e1e1e" stroke="#1e1e1e" stroke-width="0.12" textLength="11.2" lengthAdjust="spacingAndGlyphs">#22</text>
<line x1="461.2" y1="246.34" x2="471" y2="246.34" stroke="#c8163c" stroke-width="1.3"/>
<path d="M466.1,244.16 L468.29,248.09 L463.92,248.09 Z" fill="#c8163c"/>
<text x="476.7" y="248.64" font-size="6.4" fill="#1e1e1e" stroke="#1e1e1e" stroke-width="0.12" textLength="11.2" lengthAdjust="spacingAndGlyphs">#29</text>
<line x1="461.2" y1="252.51" x2="471" y2="252.51" stroke="#000" stroke-width="1.3"/>
<path d="M466.1,250.61 L467.72,252.51 L466.1,254.41 L464.49,252.51 Z" fill="#c8163c"/>
<text x="476.7" y="254.81" font-size="6.4" fill="#1e1e1e" stroke="#1e1e1e" stroke-width="0.12" textLength="11.2" lengthAdjust="spacingAndGlyphs">#35</text>
<text x="7" y="380.6" font-size="10.5" font-weight="bold" fill="#000">C</text>
<text x="70.9" y="396.4" font-size="6.4" text-anchor="middle" fill="#1e1e1e" stroke="#1e1e1e" stroke-width="0.12" textLength="13" lengthAdjust="spacingAndGlyphs">PBS</text>
<line x1="56.9" y1="399.2" x2="84.9" y2="399.2" stroke="#6a6a6a" stroke-width="1.5"/>
<text x="105.15" y="396.4" font-size="6.4" text-anchor="middle" fill="#1e1e1e" stroke="#1e1e1e" stroke-width="0.12" textLength="30.1" lengthAdjust="spacingAndGlyphs">IgG control</text>
<line x1="90.3" y1="399.2" x2="120" y2="399.2" stroke="#6a6a6a" stroke-width="1.5"/>
<text x="142.7" y="396.4" font-size="6.4" text-anchor="middle" fill="#1e1e1e" stroke="#1e1e1e" stroke-width="0.12" textLength="35.6" lengthAdjust="spacingAndGlyphs">SGN70A300</text>
<line x1="125.4" y1="399.2" x2="160" y2="399.2" stroke="#6a6a6a" stroke-width="1.5"/>
<text x="184.7" y="396.4" font-size="6.4" text-anchor="middle" fill="#1e1e1e" stroke="#1e1e1e" stroke-width="0.12" textLength="42.4" lengthAdjust="spacingAndGlyphs">SGN70A300x3</text>
<line x1="163.5" y1="399.2" x2="205.9" y2="399.2" stroke="#6a6a6a" stroke-width="1.5"/>
<line x1="58.5" y1="404.5" x2="67.3" y2="404.5" stroke="#c8163c" stroke-width="1.3"/>
<circle cx="62.9" cy="404.5" r="2.18" fill="#c8163c"/>
<text x="71.9" y="406.8" font-size="6.4" fill="#1e1e1e" stroke="#1e1e1e" stroke-width="0.12" textLength="11.2" lengthAdjust="spacingAndGlyphs">#24</text>
<line x1="58.5" y1="410.7" x2="67.3" y2="410.7" stroke="#c8163c" stroke-width="1.3"/>
<rect x="60.83" y="408.63" width="4.14" height="4.14" fill="#c8163c"/>
<text x="71.9" y="413" font-size="6.4" fill="#1e1e1e" stroke="#1e1e1e" stroke-width="0.12" textLength="11.2" lengthAdjust="spacingAndGlyphs">#26</text>
<line x1="58.5" y1="416.9" x2="67.3" y2="416.9" stroke="#c8163c" stroke-width="1.3"/>
<path d="M62.9,414.25 L65.55,419.02 L60.26,419.02 Z" fill="#c8163c"/>
<text x="71.9" y="419.2" font-size="6.4" fill="#1e1e1e" stroke="#1e1e1e" stroke-width="0.12" textLength="11.2" lengthAdjust="spacingAndGlyphs">#32</text>
<line x1="58.5" y1="423.1" x2="67.3" y2="423.1" stroke="#c8163c" stroke-width="1.3"/>
<path d="M62.9,420.8 L64.86,423.1 L62.9,425.4 L60.95,423.1 Z" fill="#c8163c"/>
<text x="71.9" y="425.4" font-size="6.4" fill="#1e1e1e" stroke="#1e1e1e" stroke-width="0.12" textLength="11.2" lengthAdjust="spacingAndGlyphs">#34</text>
<line x1="92.8" y1="404.5" x2="101.6" y2="404.5" stroke="#134c88" stroke-width="1.3"/>
<circle cx="97.2" cy="404.5" r="2.18" fill="#134c88"/>
<text x="106.1" y="406.8" font-size="6.4" fill="#1e1e1e" stroke="#1e1e1e" stroke-width="0.12" textLength="11.2" lengthAdjust="spacingAndGlyphs">#25</text>
<line x1="92.8" y1="410.7" x2="101.6" y2="410.7" stroke="#134c88" stroke-width="1.3"/>
<rect x="95.13" y="408.63" width="4.14" height="4.14" fill="#134c88"/>
<text x="106.1" y="413" font-size="6.4" fill="#1e1e1e" stroke="#1e1e1e" stroke-width="0.12" textLength="11.2" lengthAdjust="spacingAndGlyphs">#27</text>
<line x1="92.8" y1="416.9" x2="101.6" y2="416.9" stroke="#134c88" stroke-width="1.3"/>
<path d="M97.2,414.25 L99.84,419.02 L94.55,419.02 Z" fill="#134c88"/>
<text x="106.1" y="419.2" font-size="6.4" fill="#1e1e1e" stroke="#1e1e1e" stroke-width="0.12" textLength="11.2" lengthAdjust="spacingAndGlyphs">#31</text>
<line x1="130.5" y1="404.5" x2="139.3" y2="404.5" stroke="#33b24a" stroke-width="1.3"/>
<circle cx="134.9" cy="404.5" r="2.18" fill="#33b24a"/>
<text x="143.6" y="406.8" font-size="6.4" fill="#1e1e1e" stroke="#1e1e1e" stroke-width="0.12" textLength="11.2" lengthAdjust="spacingAndGlyphs">#23</text>
<line x1="130.5" y1="410.7" x2="139.3" y2="410.7" stroke="#33b24a" stroke-width="1.3"/>
<rect x="132.83" y="408.63" width="4.14" height="4.14" fill="#33b24a"/>
<text x="143.6" y="413" font-size="6.4" fill="#1e1e1e" stroke="#1e1e1e" stroke-width="0.12" textLength="11.2" lengthAdjust="spacingAndGlyphs">#28</text>
<line x1="130.5" y1="416.9" x2="139.3" y2="416.9" stroke="#33b24a" stroke-width="1.3"/>
<path d="M134.9,414.25 L137.55,419.02 L132.25,419.02 Z" fill="#33b24a"/>
<text x="143.6" y="419.2" font-size="6.4" fill="#1e1e1e" stroke="#1e1e1e" stroke-width="0.12" textLength="11.2" lengthAdjust="spacingAndGlyphs">#30</text>
<line x1="130.5" y1="423.1" x2="139.3" y2="423.1" stroke="#33b24a" stroke-width="1.3"/>
<path d="M134.9,420.8 L136.86,423.1 L134.9,425.4 L132.94,423.1 Z" fill="#33b24a"/>
<text x="143.6" y="425.4" font-size="6.4" fill="#1e1e1e" stroke="#1e1e1e" stroke-width="0.12" textLength="11.2" lengthAdjust="spacingAndGlyphs">#33</text>
<line x1="172" y1="404.5" x2="180.8" y2="404.5" stroke="#4f1c6b" stroke-width="1.3"/>
<circle cx="176.4" cy="404.5" r="2.18" fill="#4f1c6b"/>
<text x="185.5" y="406.8" font-size="6.4" fill="#1e1e1e" stroke="#1e1e1e" stroke-width="0.12" textLength="11.2" lengthAdjust="spacingAndGlyphs">#21</text>
<line x1="172" y1="410.7" x2="180.8" y2="410.7" stroke="#4f1c6b" stroke-width="1.3"/>
<rect x="174.33" y="408.63" width="4.14" height="4.14" fill="#4f1c6b"/>
<text x="185.5" y="413" font-size="6.4" fill="#1e1e1e" stroke="#1e1e1e" stroke-width="0.12" textLength="11.2" lengthAdjust="spacingAndGlyphs">#22</text>
<line x1="172" y1="416.9" x2="180.8" y2="416.9" stroke="#4f1c6b" stroke-width="1.3"/>
<path d="M176.4,414.25 L179.05,419.02 L173.75,419.02 Z" fill="#4f1c6b"/>
<text x="185.5" y="419.2" font-size="6.4" fill="#1e1e1e" stroke="#1e1e1e" stroke-width="0.12" textLength="11.2" lengthAdjust="spacingAndGlyphs">#29</text>
<line x1="172" y1="423.1" x2="180.8" y2="423.1" stroke="#4f1c6b" stroke-width="1.3"/>
<path d="M176.4,420.8 L178.36,423.1 L176.4,425.4 L174.44,423.1 Z" fill="#4f1c6b"/>
<text x="185.5" y="425.4" font-size="6.4" fill="#1e1e1e" stroke="#1e1e1e" stroke-width="0.12" textLength="11.2" lengthAdjust="spacingAndGlyphs">#35</text>
<line x1="52.8" y1="433.6" x2="52.8" y2="545.8" stroke="#1a1a1a" stroke-width="1.3"/>
<line x1="52.2" y1="545.2" x2="339.9" y2="545.2" stroke="#1a1a1a" stroke-width="1.3"/>
<line x1="49.6" y1="537.8" x2="52.8" y2="537.8" stroke="#1a1a1a" stroke-width="1.1"/>
<text x="46.6" y="540.7" font-size="8.2" text-anchor="end" fill="#1e1e1e" stroke="#1e1e1e" stroke-width="0.12" textLength="4.4" lengthAdjust="spacingAndGlyphs">0</text>
<line x1="49.6" y1="529.49" x2="52.8" y2="529.49" stroke="#1a1a1a" stroke-width="1.1"/>
<text x="46.6" y="532.39" font-size="8.2" text-anchor="end" fill="#1e1e1e" stroke="#1e1e1e" stroke-width="0.12" textLength="13.2" lengthAdjust="spacingAndGlyphs">200</text>
<line x1="49.6" y1="521.18" x2="52.8" y2="521.18" stroke="#1a1a1a" stroke-width="1.1"/>
<text x="46.6" y="524.08" font-size="8.2" text-anchor="end" fill="#1e1e1e" stroke="#1e1e1e" stroke-width="0.12" textLength="13.2" lengthAdjust="spacingAndGlyphs">400</text>
<line x1="49.6" y1="512.87" x2="52.8" y2="512.87" stroke="#1a1a1a" stroke-width="1.1"/>
<text x="46.6" y="515.77" font-size="8.2" text-anchor="end" fill="#1e1e1e" stroke="#1e1e1e" stroke-width="0.12" textLength="13.2" lengthAdjust="spacingAndGlyphs">600</text>
<line x1="49.6" y1="504.56" x2="52.8" y2="504.56" stroke="#1a1a1a" stroke-width="1.1"/>
<text x="46.6" y="507.46" font-size="8.2" text-anchor="end" fill="#1e1e1e" stroke="#1e1e1e" stroke-width="0.12" textLength="13.2" lengthAdjust="spacingAndGlyphs">800</text>
<line x1="49.6" y1="496.25" x2="52.8" y2="496.25" stroke="#1a1a1a" stroke-width="1.1"/>
<text x="46.6" y="499.15" font-size="8.2" text-anchor="end" fill="#1e1e1e" stroke="#1e1e1e" stroke-width="0.12" textLength="17.6" lengthAdjust="spacingAndGlyphs">1000</text>
<line x1="49.6" y1="487.94" x2="52.8" y2="487.94" stroke="#1a1a1a" stroke-width="1.1"/>
<text x="46.6" y="490.84" font-size="8.2" text-anchor="end" fill="#1e1e1e" stroke="#1e1e1e" stroke-width="0.12" textLength="17.6" lengthAdjust="spacingAndGlyphs">1200</text>
<line x1="49.6" y1="479.63" x2="52.8" y2="479.63" stroke="#1a1a1a" stroke-width="1.1"/>
<text x="46.6" y="482.53" font-size="8.2" text-anchor="end" fill="#1e1e1e" stroke="#1e1e1e" stroke-width="0.12" textLength="17.6" lengthAdjust="spacingAndGlyphs">1400</text>
<line x1="49.6" y1="471.32" x2="52.8" y2="471.32" stroke="#1a1a1a" stroke-width="1.1"/>
<text x="46.6" y="474.22" font-size="8.2" text-anchor="end" fill="#1e1e1e" stroke="#1e1e1e" stroke-width="0.12" textLength="17.6" lengthAdjust="spacingAndGlyphs">1600</text>
<line x1="49.6" y1="463.01" x2="52.8" y2="463.01" stroke="#1a1a1a" stroke-width="1.1"/>
<text x="46.6" y="465.91" font-size="8.2" text-anchor="end" fill="#1e1e1e" stroke="#1e1e1e" stroke-width="0.12" textLength="17.6" lengthAdjust="spacingAndGlyphs">1800</text>
<line x1="49.6" y1="454.7" x2="52.8" y2="454.7" stroke="#1a1a1a" stroke-width="1.1"/>
<text x="46.6" y="457.6" font-size="8.2" text-anchor="end" fill="#1e1e1e" stroke="#1e1e1e" stroke-width="0.12" textLength="17.6" lengthAdjust="spacingAndGlyphs">2000</text>
<line x1="49.6" y1="446.39" x2="52.8" y2="446.39" stroke="#1a1a1a" stroke-width="1.1"/>
<text x="46.6" y="449.29" font-size="8.2" text-anchor="end" fill="#1e1e1e" stroke="#1e1e1e" stroke-width="0.12" textLength="17.6" lengthAdjust="spacingAndGlyphs">2200</text>
<line x1="49.6" y1="438.08" x2="52.8" y2="438.08" stroke="#1a1a1a" stroke-width="1.1"/>
<text x="46.6" y="440.98" font-size="8.2" text-anchor="end" fill="#1e1e1e" stroke="#1e1e1e" stroke-width="0.12" textLength="17.6" lengthAdjust="spacingAndGlyphs">2400</text>
<line x1="58.1" y1="545.2" x2="58.1" y2="548.2" stroke="#1a1a1a" stroke-width="1"/>
<text x="58.1" y="556.3" font-size="7" text-anchor="middle" fill="#1e1e1e" stroke="#1e1e1e" stroke-width="0.12" textLength="2.95" lengthAdjust="spacingAndGlyphs">6</text>
<line x1="67.75" y1="545.2" x2="67.75" y2="548.2" stroke="#1a1a1a" stroke-width="1"/>
<text x="67.75" y="556.3" font-size="7" text-anchor="middle" fill="#1e1e1e" stroke="#1e1e1e" stroke-width="0.12" textLength="2.95" lengthAdjust="spacingAndGlyphs">8</text>
<line x1="77.4" y1="545.2" x2="77.4" y2="548.2" stroke="#1a1a1a" stroke-width="1"/>
<text x="77.4" y="556.3" font-size="7" text-anchor="middle" fill="#1e1e1e" stroke="#1e1e1e" stroke-width="0.12" textLength="5.9" lengthAdjust="spacingAndGlyphs">10</text>
<line x1="87.05" y1="545.2" x2="87.05" y2="548.2" stroke="#1a1a1a" stroke-width="1"/>
<text x="87.05" y="556.3" font-size="7" text-anchor="middle" fill="#1e1e1e" stroke="#1e1e1e" stroke-width="0.12" textLength="5.9" lengthAdjust="spacingAndGlyphs">12</text>
<line x1="96.7" y1="545.2" x2="96.7" y2="548.2" stroke="#1a1a1a" stroke-width="1"/>
<text x="96.7" y="556.3" font-size="7" text-anchor="middle" fill="#1e1e1e" stroke="#1e1e1e" stroke-width="0.12" textLength="5.9" lengthAdjust="spacingAndGlyphs">14</text>
<line x1="106.35" y1="545.2" x2="106.35" y2="548.2" stroke="#1a1a1a" stroke-width="1"/>
<text x="106.35" y="556.3" font-size="7" text-anchor="middle" fill="#1e1e1e" stroke="#1e1e1e" stroke-width="0.12" textLength="5.9" lengthAdjust="spacingAndGlyphs">16</text>
<line x1="116" y1="545.2" x2="116" y2="548.2" stroke="#1a1a1a" stroke-width="1"/>
<text x="116" y="556.3" font-size="7" text-anchor="middle" fill="#1e1e1e" stroke="#1e1e1e" stroke-width="0.12" textLength="5.9" lengthAdjust="spacingAndGlyphs">18</text>
<line x1="125.65" y1="545.2" x2="125.65" y2="548.2" stroke="#1a1a1a" stroke-width="1"/>
<text x="125.65" y="556.3" font-size="7" text-anchor="middle" fill="#1e1e1e" stroke="#1e1e1e" stroke-width="0.12" textLength="5.9" lengthAdjust="spacingAndGlyphs">20</text>
<line x1="135.3" y1="545.2" x2="135.3" y2="548.2" stroke="#1a1a1a" stroke-width="1"/>
<text x="135.3" y="556.3" font-size="7" text-anchor="middle" fill="#1e1e1e" stroke="#1e1e1e" stroke-width="0.12" textLength="5.9" lengthAdjust="spacingAndGlyphs">22</text>
<line x1="144.95" y1="545.2" x2="144.95" y2="548.2" stroke="#1a1a1a" stroke-width="1"/>
<text x="144.95" y="556.3" font-size="7" text-anchor="middle" fill="#1e1e1e" stroke="#1e1e1e" stroke-width="0.12" textLength="5.9" lengthAdjust="spacingAndGlyphs">24</text>
<line x1="154.6" y1="545.2" x2="154.6" y2="548.2" stroke="#1a1a1a" stroke-width="1"/>
<text x="154.6" y="556.3" font-size="7" text-anchor="middle" fill="#1e1e1e" stroke="#1e1e1e" stroke-width="0.12" textLength="5.9" lengthAdjust="spacingAndGlyphs">26</text>
<line x1="164.25" y1="545.2" x2="164.25" y2="548.2" stroke="#1a1a1a" stroke-width="1"/>
<text x="164.25" y="556.3" font-size="7" text-anchor="middle" fill="#1e1e1e" stroke="#1e1e1e" stroke-width="0.12" textLength="5.9" lengthAdjust="spacingAndGlyphs">28</text>
<line x1="173.9" y1="545.2" x2="173.9" y2="548.2" stroke="#1a1a1a" stroke-width="1"/>
<text x="173.9" y="556.3" font-size="7" text-anchor="middle" fill="#1e1e1e" stroke="#1e1e1e" stroke-width="0.12" textLength="5.9" lengthAdjust="spacingAndGlyphs">30</text>
<line x1="183.55" y1="545.2" x2="183.55" y2="548.2" stroke="#1a1a1a" stroke-width="1"/>
<text x="183.55" y="556.3" font-size="7" text-anchor="middle" fill="#1e1e1e" stroke="#1e1e1e" stroke-width="0.12" textLength="5.9" lengthAdjust="spacingAndGlyphs">32</text>
<line x1="193.2" y1="545.2" x2="193.2" y2="548.2" stroke="#1a1a1a" stroke-width="1"/>
<text x="193.2" y="556.3" font-size="7" text-anchor="middle" fill="#1e1e1e" stroke="#1e1e1e" stroke-width="0.12" textLength="5.9" lengthAdjust="spacingAndGlyphs">34</text>
<line x1="202.85" y1="545.2" x2="202.85" y2="548.2" stroke="#1a1a1a" stroke-width="1"/>
<text x="202.85" y="556.3" font-size="7" text-anchor="middle" fill="#1e1e1e" stroke="#1e1e1e" stroke-width="0.12" textLength="5.9" lengthAdjust="spacingAndGlyphs">36</text>
<line x1="212.5" y1="545.2" x2="212.5" y2="548.2" stroke="#1a1a1a" stroke-width="1"/>
<text x="212.5" y="556.3" font-size="7" text-anchor="middle" fill="#1e1e1e" stroke="#1e1e1e" stroke-width="0.12" textLength="5.9" lengthAdjust="spacingAndGlyphs">38</text>
<line x1="222.15" y1="545.2" x2="222.15" y2="548.2" stroke="#1a1a1a" stroke-width="1"/>
<text x="222.15" y="556.3" font-size="7" text-anchor="middle" fill="#1e1e1e" stroke="#1e1e1e" stroke-width="0.12" textLength="5.9" lengthAdjust="spacingAndGlyphs">40</text>
<line x1="231.8" y1="545.2" x2="231.8" y2="548.2" stroke="#1a1a1a" stroke-width="1"/>
<text x="231.8" y="556.3" font-size="7" text-anchor="middle" fill="#1e1e1e" stroke="#1e1e1e" stroke-width="0.12" textLength="5.9" lengthAdjust="spacingAndGlyphs">42</text>
<line x1="241.45" y1="545.2" x2="241.45" y2="548.2" stroke="#1a1a1a" stroke-width="1"/>
<text x="241.45" y="556.3" font-size="7" text-anchor="middle" fill="#1e1e1e" stroke="#1e1e1e" stroke-width="0.12" textLength="5.9" lengthAdjust="spacingAndGlyphs">44</text>
<line x1="251.1" y1="545.2" x2="251.1" y2="548.2" stroke="#1a1a1a" stroke-width="1"/>
<text x="251.1" y="556.3" font-size="7" text-anchor="middle" fill="#1e1e1e" stroke="#1e1e1e" stroke-width="0.12" textLength="5.9" lengthAdjust="spacingAndGlyphs">46</text>
<line x1="260.75" y1="545.2" x2="260.75" y2="548.2" stroke="#1a1a1a" stroke-width="1"/>
<text x="260.75" y="556.3" font-size="7" text-anchor="middle" fill="#1e1e1e" stroke="#1e1e1e" stroke-width="0.12" textLength="5.9" lengthAdjust="spacingAndGlyphs">48</text>
<line x1="270.4" y1="545.2" x2="270.4" y2="548.2" stroke="#1a1a1a" stroke-width="1"/>
<text x="270.4" y="556.3" font-size="7" text-anchor="middle" fill="#1e1e1e" stroke="#1e1e1e" stroke-width="0.12" textLength="5.9" lengthAdjust="spacingAndGlyphs">50</text>
<line x1="280.05" y1="545.2" x2="280.05" y2="548.2" stroke="#1a1a1a" stroke-width="1"/>
<text x="280.05" y="556.3" font-size="7" text-anchor="middle" fill="#1e1e1e" stroke="#1e1e1e" stroke-width="0.12" textLength="5.9" lengthAdjust="spacingAndGlyphs">52</text>
<line x1="289.7" y1="545.2" x2="289.7" y2="548.2" stroke="#1a1a1a" stroke-width="1"/>
<text x="289.7" y="556.3" font-size="7" text-anchor="middle" fill="#1e1e1e" stroke="#1e1e1e" stroke-width="0.12" textLength="5.9" lengthAdjust="spacingAndGlyphs">54</text>
<line x1="299.35" y1="545.2" x2="299.35" y2="548.2" stroke="#1a1a1a" stroke-width="1"/>
<text x="299.35" y="556.3" font-size="7" text-anchor="middle" fill="#1e1e1e" stroke="#1e1e1e" stroke-width="0.12" textLength="5.9" lengthAdjust="spacingAndGlyphs">56</text>
<line x1="309" y1="545.2" x2="309" y2="548.2" stroke="#1a1a1a" stroke-width="1"/>
<text x="309" y="556.3" font-size="7" text-anchor="middle" fill="#1e1e1e" stroke="#1e1e1e" stroke-width="0.12" textLength="5.9" lengthAdjust="spacingAndGlyphs">58</text>
<line x1="318.65" y1="545.2" x2="318.65" y2="548.2" stroke="#1a1a1a" stroke-width="1"/>
<text x="318.65" y="556.3" font-size="7" text-anchor="middle" fill="#1e1e1e" stroke="#1e1e1e" stroke-width="0.12" textLength="5.9" lengthAdjust="spacingAndGlyphs">60</text>
<line x1="328.3" y1="545.2" x2="328.3" y2="548.2" stroke="#1a1a1a" stroke-width="1"/>
<text x="328.3" y="556.3" font-size="7" text-anchor="middle" fill="#1e1e1e" stroke="#1e1e1e" stroke-width="0.12" textLength="5.9" lengthAdjust="spacingAndGlyphs">62</text>
<line x1="337.95" y1="545.2" x2="337.95" y2="548.2" stroke="#1a1a1a" stroke-width="1"/>
<text x="337.95" y="556.3" font-size="7" text-anchor="middle" fill="#1e1e1e" stroke="#1e1e1e" stroke-width="0.12" textLength="5.9" lengthAdjust="spacingAndGlyphs">64</text>
<text transform="translate(23 489.9) rotate(-90)" x="0" y="0" font-size="8.8" text-anchor="middle" fill="#1e1e1e" stroke="#1e1e1e" stroke-width="0.35" textLength="59.8" lengthAdjust="spacingAndGlyphs">Tumor volume (mm<tspan font-size="5" dy="-2.5">3</tspan><tspan dy="2.5">)</tspan></text>
<text x="163.5" y="569.3" font-size="8.8" fill="#1e1e1e" stroke="#1e1e1e" stroke-width="0.35" textLength="63.5" lengthAdjust="spacingAndGlyphs">Days post implantation</text>
<path d="M335.3,531.3 H340.1 V542.3 H335.3" stroke="#222" stroke-width="1.1" fill="none"/>
<line x1="346.2" y1="542.2" x2="346.2" y2="548.2" stroke="#1a1a1a" stroke-width="1.1"/>
<line x1="346.2" y1="545.2" x2="447.4" y2="545.2" stroke="#1a1a1a" stroke-width="1.3"/>
<line x1="346.9" y1="545.2" x2="346.9" y2="548.2" stroke="#1a1a1a" stroke-width="1"/>
<text x="346.9" y="556.3" font-size="6.8" text-anchor="middle" fill="#1e1e1e" stroke="#1e1e1e" stroke-width="0.12" textLength="5.2" lengthAdjust="spacingAndGlyphs">76</text>
<line x1="355.08" y1="545.2" x2="355.08" y2="548.2" stroke="#1a1a1a" stroke-width="1"/>
<text x="355.08" y="556.3" font-size="6.8" text-anchor="middle" fill="#1e1e1e" stroke="#1e1e1e" stroke-width="0.12" textLength="5.2" lengthAdjust="spacingAndGlyphs">80</text>
<line x1="363.27" y1="545.2" x2="363.27" y2="548.2" stroke="#1a1a1a" stroke-width="1"/>
<text x="363.27" y="556.3" font-size="6.8" text-anchor="middle" fill="#1e1e1e" stroke="#1e1e1e" stroke-width="0.12" textLength="5.2" lengthAdjust="spacingAndGlyphs">84</text>
<line x1="371.45" y1="545.2" x2="371.45" y2="548.2" stroke="#1a1a1a" stroke-width="1"/>
<text x="371.45" y="556.3" font-size="6.8" text-anchor="middle" fill="#1e1e1e" stroke="#1e1e1e" stroke-width="0.12" textLength="5.2" lengthAdjust="spacingAndGlyphs">88</text>
<line x1="379.64" y1="545.2" x2="379.64" y2="548.2" stroke="#1a1a1a" stroke-width="1"/>
<text x="379.64" y="556.3" font-size="6.8" text-anchor="middle" fill="#1e1e1e" stroke="#1e1e1e" stroke-width="0.12" textLength="5.2" lengthAdjust="spacingAndGlyphs">92</text>
<line x1="387.82" y1="545.2" x2="387.82" y2="548.2" stroke="#1a1a1a" stroke-width="1"/>
<text x="387.82" y="556.3" font-size="6.8" text-anchor="middle" fill="#1e1e1e" stroke="#1e1e1e" stroke-width="0.12" textLength="5.2" lengthAdjust="spacingAndGlyphs">96</text>
<line x1="396" y1="545.2" x2="396" y2="548.2" stroke="#1a1a1a" stroke-width="1"/>
<text x="396" y="556.3" font-size="6.8" text-anchor="middle" fill="#1e1e1e" stroke="#1e1e1e" stroke-width="0.12" textLength="7.8" lengthAdjust="spacingAndGlyphs">100</text>
<line x1="404.19" y1="545.2" x2="404.19" y2="548.2" stroke="#1a1a1a" stroke-width="1"/>
<text x="404.19" y="556.3" font-size="6.8" text-anchor="middle" fill="#1e1e1e" stroke="#1e1e1e" stroke-width="0.12" textLength="7.8" lengthAdjust="spacingAndGlyphs">104</text>
<line x1="412.37" y1="545.2" x2="412.37" y2="548.2" stroke="#1a1a1a" stroke-width="1"/>
<text x="412.37" y="556.3" font-size="6.8" text-anchor="middle" fill="#1e1e1e" stroke="#1e1e1e" stroke-width="0.12" textLength="7.8" lengthAdjust="spacingAndGlyphs">108</text>
<line x1="420.56" y1="545.2" x2="420.56" y2="548.2" stroke="#1a1a1a" stroke-width="1"/>
<text x="420.56" y="556.3" font-size="6.8" text-anchor="middle" fill="#1e1e1e" stroke="#1e1e1e" stroke-width="0.12" textLength="7.8" lengthAdjust="spacingAndGlyphs">112</text>
<line x1="428.74" y1="545.2" x2="428.74" y2="548.2" stroke="#1a1a1a" stroke-width="1"/>
<text x="428.74" y="556.3" font-size="6.8" text-anchor="middle" fill="#1e1e1e" stroke="#1e1e1e" stroke-width="0.12" textLength="7.8" lengthAdjust="spacingAndGlyphs">116</text>
<line x1="436.92" y1="545.2" x2="436.92" y2="548.2" stroke="#1a1a1a" stroke-width="1"/>
<text x="436.92" y="556.3" font-size="6.8" text-anchor="middle" fill="#1e1e1e" stroke="#1e1e1e" stroke-width="0.12" textLength="7.8" lengthAdjust="spacingAndGlyphs">120</text>
<line x1="445.11" y1="545.2" x2="445.11" y2="548.2" stroke="#1a1a1a" stroke-width="1"/>
<text x="445.11" y="556.3" font-size="6.8" text-anchor="middle" fill="#1e1e1e" stroke="#1e1e1e" stroke-width="0.12" textLength="7.8" lengthAdjust="spacingAndGlyphs">124</text>
<text x="345" y="529" font-size="6.5" fill="#1e1e1e" stroke="#1e1e1e" stroke-width="0.12">*</text>
<text x="349.7" y="530.8" font-size="7.3" fill="#1e1e1e" stroke="#1e1e1e" stroke-width="0.12" textLength="49.2" lengthAdjust="spacingAndGlyphs">SGN70A300x3</text>
<line x1="62.93" y1="445" x2="62.93" y2="545" stroke="#e0405f" stroke-width="1" stroke-dasharray="1.3 1.3"/>
<text x="62.93" y="442.2" font-size="6.9" text-anchor="middle" fill="#c8163c" stroke="#c8163c" stroke-width="0.12">1st</text>
<line x1="96.7" y1="445" x2="96.7" y2="545" stroke="#e0405f" stroke-width="1" stroke-dasharray="1.3 1.3"/>
<text x="96.7" y="442.2" font-size="6.9" text-anchor="middle" fill="#c8163c" stroke="#c8163c" stroke-width="0.12">2nd</text>
<line x1="130.47" y1="445" x2="130.47" y2="545" stroke="#e0405f" stroke-width="1" stroke-dasharray="1.3 1.3"/>
<text x="130.47" y="442.2" font-size="6.9" text-anchor="middle" fill="#c8163c" stroke="#c8163c" stroke-width="0.12">3rd</text>
<path d="M62.93,536.14 L67.75,535.72 L77.4,536.14 L87.05,536.55 L96.7,536.76 L106.35,536.55 L116,536.35 L125.65,536.14 L130.47,536.55 L135.3,536.14 L144.95,536.14 L154.6,536.14 L169.08,536.35 L173.9,535.93 L183.55,536.14 L198.03,535.93 L207.68,536.14 L217.32,536.14 L231.8,536.14 L246.28,535.93 L255.93,536.14 L284.88,536.14 L313.83,536.14 L333.13,536.14" stroke="#4f1c6b" stroke-width="1.5" fill="none" stroke-linejoin="round"/>
<circle cx="62.93" cy="536.14" r="1.99" fill="#4f1c6b"/>
<circle cx="67.75" cy="535.72" r="1.99" fill="#4f1c6b"/>
<circle cx="77.4" cy="536.14" r="1.99" fill="#4f1c6b"/>
<circle cx="87.05" cy="536.55" r="1.99" fill="#4f1c6b"/>
<circle cx="96.7" cy="536.76" r="1.99" fill="#4f1c6b"/>
<circle cx="106.35" cy="536.55" r="1.99" fill="#4f1c6b"/>
<circle cx="116" cy="536.35" r="1.99" fill="#4f1c6b"/>
<circle cx="125.65" cy="536.14" r="1.99" fill="#4f1c6b"/>
<circle cx="130.47" cy="536.55" r="1.99" fill="#4f1c6b"/>
<circle cx="135.3" cy="536.14" r="1.99" fill="#4f1c6b"/>
<circle cx="144.95" cy="536.14" r="1.99" fill="#4f1c6b"/>
<circle cx="154.6" cy="536.14" r="1.99" fill="#4f1c6b"/>
<circle cx="169.08" cy="536.35" r="1.99" fill="#4f1c6b"/>
<circle cx="173.9" cy="535.93" r="1.99" fill="#4f1c6b"/>
<circle cx="183.55" cy="536.14" r="1.99" fill="#4f1c6b"/>
<circle cx="198.03" cy="535.93" r="1.99" fill="#4f1c6b"/>
<circle cx="207.68" cy="536.14" r="1.99" fill="#4f1c6b"/>
<circle cx="217.32" cy="536.14" r="1.99" fill="#4f1c6b"/>
<circle cx="231.8" cy="536.14" r="1.99" fill="#4f1c6b"/>
<circle cx="246.28" cy="535.93" r="1.99" fill="#4f1c6b"/>
<circle cx="255.93" cy="536.14" r="1.99" fill="#4f1c6b"/>
<circle cx="284.88" cy="536.14" r="1.99" fill="#4f1c6b"/>
<circle cx="313.83" cy="536.14" r="1.99" fill="#4f1c6b"/>
<circle cx="333.13" cy="536.14" r="1.99" fill="#4f1c6b"/>
<path d="M62.93,534.06 L67.75,533.23 L77.4,533.64 L87.05,534.48 L96.7,534.06 L106.35,533.85 L116,534.06 L125.65,535.31 L130.47,535.51 L135.3,534.48 L144.95,534.06 L154.6,534.89 L169.08,535.31 L173.9,534.06 L183.55,534.89 L198.03,535.31 L207.68,534.68 L217.32,534.48 L231.8,534.89 L246.28,536.14 L255.93,535.51" stroke="#4f1c6b" stroke-width="1.5" fill="none" stroke-linejoin="round"/>
<path d="M62.93,531.65 L65.34,535.99 L60.51,535.99 Z" fill="#4f1c6b"/>
<path d="M67.75,530.81 L70.17,535.16 L65.33,535.16 Z" fill="#4f1c6b"/>
<path d="M77.4,531.23 L79.82,535.58 L74.98,535.58 Z" fill="#4f1c6b"/>
<path d="M87.05,532.06 L89.47,536.41 L84.64,536.41 Z" fill="#4f1c6b"/>
<path d="M96.7,531.65 L99.12,535.99 L94.28,535.99 Z" fill="#4f1c6b"/>
<path d="M106.35,531.44 L108.77,535.78 L103.93,535.78 Z" fill="#4f1c6b"/>
<path d="M116,531.65 L118.42,535.99 L113.58,535.99 Z" fill="#4f1c6b"/>
<path d="M125.65,532.89 L128.06,537.24 L123.23,537.24 Z" fill="#4f1c6b"/>
<path d="M130.47,533.1 L132.89,537.45 L128.06,537.45 Z" fill="#4f1c6b"/>
<path d="M135.3,532.06 L137.72,536.41 L132.89,536.41 Z" fill="#4f1c6b"/>
<path d="M144.95,531.65 L147.37,535.99 L142.54,535.99 Z" fill="#4f1c6b"/>
<path d="M154.6,532.48 L157.01,536.82 L152.19,536.82 Z" fill="#4f1c6b"/>
<path d="M169.08,532.89 L171.49,537.24 L166.66,537.24 Z" fill="#4f1c6b"/>
<path d="M173.9,531.65 L176.31,535.99 L171.49,535.99 Z" fill="#4f1c6b"/>
<path d="M183.55,532.48 L185.97,536.82 L181.14,536.82 Z" fill="#4f1c6b"/>
<path d="M198.03,532.89 L200.44,537.24 L195.61,537.24 Z" fill="#4f1c6b"/>
<path d="M207.68,532.27 L210.09,536.62 L205.26,536.62 Z" fill="#4f1c6b"/>
<path d="M217.32,532.06 L219.74,536.41 L214.91,536.41 Z" fill="#4f1c6b"/>
<path d="M231.8,532.48 L234.22,536.82 L229.39,536.82 Z" fill="#4f1c6b"/>
<path d="M246.28,533.72 L248.69,538.07 L243.86,538.07 Z" fill="#4f1c6b"/>
<path d="M255.93,533.1 L258.34,537.45 L253.51,537.45 Z" fill="#4f1c6b"/>
<path d="M62.93,535.72 L67.75,535.31 L77.4,534.27 L87.05,534.06 L96.7,534.27 L106.35,534.89 L116,535.1 L125.65,534.89 L130.47,534.06 L135.3,535.31 L144.95,535.72 L154.6,535.93 L169.08,535.72 L173.9,535.72 L183.55,534.89 L198.03,535.31 L207.68,535.51 L217.32,535.31 L231.8,535.51 L246.28,534.48 L255.93,535.31 L284.88,536.55 L313.83,536.55 L333.13,536.55" stroke="#4f1c6b" stroke-width="1.5" fill="none" stroke-linejoin="round"/>
<path d="M62.93,533.62 L64.71,535.72 L62.93,537.82 L61.14,535.72 Z" fill="#4f1c6b"/>
<path d="M67.75,533.21 L69.53,535.31 L67.75,537.41 L65.97,535.31 Z" fill="#4f1c6b"/>
<path d="M77.4,532.17 L79.19,534.27 L77.4,536.37 L75.62,534.27 Z" fill="#4f1c6b"/>
<path d="M87.05,531.96 L88.84,534.06 L87.05,536.16 L85.27,534.06 Z" fill="#4f1c6b"/>
<path d="M96.7,532.17 L98.48,534.27 L96.7,536.37 L94.92,534.27 Z" fill="#4f1c6b"/>
<path d="M106.35,532.79 L108.13,534.89 L106.35,536.99 L104.56,534.89 Z" fill="#4f1c6b"/>
<path d="M116,533 L117.78,535.1 L116,537.2 L114.22,535.1 Z" fill="#4f1c6b"/>
<path d="M125.65,532.79 L127.44,534.89 L125.65,536.99 L123.87,534.89 Z" fill="#4f1c6b"/>
<path d="M130.47,531.96 L132.26,534.06 L130.47,536.16 L128.69,534.06 Z" fill="#4f1c6b"/>
<path d="M135.3,533.21 L137.09,535.31 L135.3,537.41 L133.52,535.31 Z" fill="#4f1c6b"/>
<path d="M144.95,533.62 L146.74,535.72 L144.95,537.82 L143.17,535.72 Z" fill="#4f1c6b"/>
<path d="M154.6,533.83 L156.38,535.93 L154.6,538.03 L152.81,535.93 Z" fill="#4f1c6b"/>
<path d="M169.08,533.62 L170.86,535.72 L169.08,537.82 L167.29,535.72 Z" fill="#4f1c6b"/>
<path d="M173.9,533.62 L175.69,535.72 L173.9,537.82 L172.12,535.72 Z" fill="#4f1c6b"/>
<path d="M183.55,532.79 L185.34,534.89 L183.55,536.99 L181.77,534.89 Z" fill="#4f1c6b"/>
<path d="M198.03,533.21 L199.81,535.31 L198.03,537.41 L196.24,535.31 Z" fill="#4f1c6b"/>
<path d="M207.68,533.41 L209.46,535.51 L207.68,537.61 L205.89,535.51 Z" fill="#4f1c6b"/>
<path d="M217.32,533.21 L219.11,535.31 L217.32,537.41 L215.54,535.31 Z" fill="#4f1c6b"/>
<path d="M231.8,533.41 L233.59,535.51 L231.8,537.61 L230.02,535.51 Z" fill="#4f1c6b"/>
<path d="M246.28,532.38 L248.06,534.48 L246.28,536.58 L244.49,534.48 Z" fill="#4f1c6b"/>
<path d="M255.93,533.21 L257.71,535.31 L255.93,537.41 L254.14,535.31 Z" fill="#4f1c6b"/>
<path d="M284.88,534.45 L286.66,536.55 L284.88,538.65 L283.09,536.55 Z" fill="#4f1c6b"/>
<path d="M313.83,534.45 L315.61,536.55 L313.83,538.65 L312.04,536.55 Z" fill="#4f1c6b"/>
<path d="M333.13,534.45 L334.91,536.55 L333.13,538.65 L331.34,536.55 Z" fill="#4f1c6b"/>
<path d="M62.93,534.48 L67.75,533.98 L77.4,530.32 L87.05,523.26" stroke="#4f1c6b" stroke-width="1.5" fill="none" stroke-linejoin="round"/>
<rect x="61.04" y="532.59" width="3.78" height="3.78" fill="#4f1c6b"/>
<rect x="65.86" y="532.09" width="3.78" height="3.78" fill="#4f1c6b"/>
<rect x="75.51" y="528.43" width="3.78" height="3.78" fill="#4f1c6b"/>
<rect x="85.16" y="521.37" width="3.78" height="3.78" fill="#4f1c6b"/>
<path d="M62.93,533.64 L67.75,534.48 L77.4,535.31 L87.05,535.39 L96.7,535.31 L106.35,535.72 L116,535.31 L125.65,535.31 L130.47,535.72 L144.95,534.48 L154.6,535.31 L169.08,535.72 L173.9,535.31 L183.55,534.89 L198.03,533.64 L207.68,528.49 L217.32,525.42 L231.8,510.79 L246.28,505.18" stroke="#33b24a" stroke-width="1.5" fill="none" stroke-linejoin="round"/>
<rect x="61.04" y="531.75" width="3.78" height="3.78" fill="#33b24a"/>
<rect x="65.86" y="532.59" width="3.78" height="3.78" fill="#33b24a"/>
<rect x="75.51" y="533.42" width="3.78" height="3.78" fill="#33b24a"/>
<rect x="85.16" y="533.5" width="3.78" height="3.78" fill="#33b24a"/>
<rect x="94.81" y="533.42" width="3.78" height="3.78" fill="#33b24a"/>
<rect x="104.46" y="533.83" width="3.78" height="3.78" fill="#33b24a"/>
<rect x="114.11" y="533.42" width="3.78" height="3.78" fill="#33b24a"/>
<rect x="123.76" y="533.42" width="3.78" height="3.78" fill="#33b24a"/>
<rect x="128.59" y="533.83" width="3.78" height="3.78" fill="#33b24a"/>
<rect x="143.06" y="532.59" width="3.78" height="3.78" fill="#33b24a"/>
<rect x="152.71" y="533.42" width="3.78" height="3.78" fill="#33b24a"/>
<rect x="167.19" y="533.83" width="3.78" height="3.78" fill="#33b24a"/>
<rect x="172.01" y="533.42" width="3.78" height="3.78" fill="#33b24a"/>
<rect x="181.66" y="533" width="3.78" height="3.78" fill="#33b24a"/>
<rect x="196.14" y="531.75" width="3.78" height="3.78" fill="#33b24a"/>
<rect x="205.79" y="526.6" width="3.78" height="3.78" fill="#33b24a"/>
<rect x="215.44" y="523.53" width="3.78" height="3.78" fill="#33b24a"/>
<rect x="229.91" y="508.9" width="3.78" height="3.78" fill="#33b24a"/>
<rect x="244.39" y="503.29" width="3.78" height="3.78" fill="#33b24a"/>
<path d="M62.93,534.48 L67.75,534.06 L77.4,534.48 L87.05,533.64 L96.7,534.48 L106.35,535.31 L116,534.48 L125.65,534.06 L130.47,533.64 L144.95,531.57 L154.6,533.64 L169.08,534.48 L173.9,532.81 L183.55,526 L198.03,495.21 L207.68,492.3 L217.32,475.02 L231.8,477.93" stroke="#33b24a" stroke-width="1.5" fill="none" stroke-linejoin="round"/>
<path d="M62.93,532.38 L64.71,534.48 L62.93,536.58 L61.14,534.48 Z" fill="#33b24a"/>
<path d="M67.75,531.96 L69.53,534.06 L67.75,536.16 L65.97,534.06 Z" fill="#33b24a"/>
<path d="M77.4,532.38 L79.19,534.48 L77.4,536.58 L75.62,534.48 Z" fill="#33b24a"/>
<path d="M87.05,531.54 L88.84,533.64 L87.05,535.75 L85.27,533.64 Z" fill="#33b24a"/>
<path d="M96.7,532.38 L98.48,534.48 L96.7,536.58 L94.92,534.48 Z" fill="#33b24a"/>
<path d="M106.35,533.21 L108.13,535.31 L106.35,537.41 L104.56,535.31 Z" fill="#33b24a"/>
<path d="M116,532.38 L117.78,534.48 L116,536.58 L114.22,534.48 Z" fill="#33b24a"/>
<path d="M125.65,531.96 L127.44,534.06 L125.65,536.16 L123.87,534.06 Z" fill="#33b24a"/>
<path d="M130.47,531.54 L132.26,533.64 L130.47,535.75 L128.69,533.64 Z" fill="#33b24a"/>
<path d="M144.95,529.47 L146.74,531.57 L144.95,533.67 L143.17,531.57 Z" fill="#33b24a"/>
<path d="M154.6,531.54 L156.38,533.64 L154.6,535.75 L152.81,533.64 Z" fill="#33b24a"/>
<path d="M169.08,532.38 L170.86,534.48 L169.08,536.58 L167.29,534.48 Z" fill="#33b24a"/>
<path d="M173.9,530.71 L175.69,532.81 L173.9,534.91 L172.12,532.81 Z" fill="#33b24a"/>
<path d="M183.55,523.9 L185.34,526 L183.55,528.1 L181.77,526 Z" fill="#33b24a"/>
<path d="M198.03,493.11 L199.81,495.21 L198.03,497.31 L196.24,495.21 Z" fill="#33b24a"/>
<path d="M207.68,490.2 L209.46,492.3 L207.68,494.4 L205.89,492.3 Z" fill="#33b24a"/>
<path d="M217.32,472.92 L219.11,475.02 L217.32,477.12 L215.54,475.02 Z" fill="#33b24a"/>
<path d="M231.8,475.83 L233.59,477.93 L231.8,480.03 L230.02,477.93 Z" fill="#33b24a"/>
<path d="M62.93,533.64 L67.75,533.64 L77.4,533.64 L87.05,534.48 L96.7,535.31 L106.35,535.72 L116,534.06 L125.65,533.64 L130.47,534.48 L135.3,532.81 L144.95,528.49 L154.6,527.91 L169.08,521.18 L173.9,508.67 L183.55,505.18" stroke="#33b24a" stroke-width="1.5" fill="none" stroke-linejoin="round"/>
<circle cx="62.93" cy="533.64" r="1.99" fill="#33b24a"/>
<circle cx="67.75" cy="533.64" r="1.99" fill="#33b24a"/>
<circle cx="77.4" cy="533.64" r="1.99" fill="#33b24a"/>
<circle cx="87.05" cy="534.48" r="1.99" fill="#33b24a"/>
<circle cx="96.7" cy="535.31" r="1.99" fill="#33b24a"/>
<circle cx="106.35" cy="535.72" r="1.99" fill="#33b24a"/>
<circle cx="116" cy="534.06" r="1.99" fill="#33b24a"/>
<circle cx="125.65" cy="533.64" r="1.99" fill="#33b24a"/>
<circle cx="130.47" cy="534.48" r="1.99" fill="#33b24a"/>
<circle cx="135.3" cy="532.81" r="1.99" fill="#33b24a"/>
<circle cx="144.95" cy="528.49" r="1.99" fill="#33b24a"/>
<circle cx="154.6" cy="527.91" r="1.99" fill="#33b24a"/>
<circle cx="169.08" cy="521.18" r="1.99" fill="#33b24a"/>
<circle cx="173.9" cy="508.67" r="1.99" fill="#33b24a"/>
<circle cx="183.55" cy="505.18" r="1.99" fill="#33b24a"/>
<path d="M62.93,534.48 L67.75,533.64 L77.4,530.74 L87.05,522.01 L96.7,490.89 L106.35,483.62 L116,467.29 L125.65,459.1 L130.47,470.9" stroke="#33b24a" stroke-width="1.5" fill="none" stroke-linejoin="round"/>
<path d="M62.93,532.06 L65.34,536.41 L60.51,536.41 Z" fill="#33b24a"/>
<path d="M67.75,531.23 L70.17,535.58 L65.33,535.58 Z" fill="#33b24a"/>
<path d="M77.4,528.32 L79.82,532.67 L74.98,532.67 Z" fill="#33b24a"/>
<path d="M87.05,519.6 L89.47,523.94 L84.64,523.94 Z" fill="#33b24a"/>
<path d="M96.7,488.48 L99.12,492.82 L94.28,492.82 Z" fill="#33b24a"/>
<path d="M106.35,481.2 L108.77,485.55 L103.93,485.55 Z" fill="#33b24a"/>
<path d="M116,464.87 L118.42,469.22 L113.58,469.22 Z" fill="#33b24a"/>
<path d="M125.65,456.69 L128.06,461.04 L123.23,461.04 Z" fill="#33b24a"/>
<path d="M130.47,468.49 L132.89,472.84 L128.06,472.84 Z" fill="#33b24a"/>
<path d="M62.93,531.57 L67.75,529.49 L77.4,530.32 L87.05,531.98 L96.7,530.74 L106.35,532.81 L116,531.57 L125.65,531.15 L130.47,531.57 L135.3,531.15 L144.95,525 L154.6,526 L169.08,516.32 L173.9,516.32 L183.55,515.99" stroke="#134c88" stroke-width="1.5" fill="none" stroke-linejoin="round"/>
<rect x="61.04" y="529.68" width="3.78" height="3.78" fill="#134c88"/>
<rect x="65.86" y="527.6" width="3.78" height="3.78" fill="#134c88"/>
<rect x="75.51" y="528.43" width="3.78" height="3.78" fill="#134c88"/>
<rect x="85.16" y="530.09" width="3.78" height="3.78" fill="#134c88"/>
<rect x="94.81" y="528.85" width="3.78" height="3.78" fill="#134c88"/>
<rect x="104.46" y="530.92" width="3.78" height="3.78" fill="#134c88"/>
<rect x="114.11" y="529.68" width="3.78" height="3.78" fill="#134c88"/>
<rect x="123.76" y="529.26" width="3.78" height="3.78" fill="#134c88"/>
<rect x="128.59" y="529.68" width="3.78" height="3.78" fill="#134c88"/>
<rect x="133.41" y="529.26" width="3.78" height="3.78" fill="#134c88"/>
<rect x="143.06" y="523.11" width="3.78" height="3.78" fill="#134c88"/>
<rect x="152.71" y="524.11" width="3.78" height="3.78" fill="#134c88"/>
<rect x="167.19" y="514.43" width="3.78" height="3.78" fill="#134c88"/>
<rect x="172.01" y="514.43" width="3.78" height="3.78" fill="#134c88"/>
<rect x="181.66" y="514.1" width="3.78" height="3.78" fill="#134c88"/>
<path d="M62.93,532.81 L67.75,530.32 L77.4,529.49 L87.05,530.32 L96.7,530.32 L106.35,531.57 L116,530.74 L125.65,530.74 L130.47,531.15 L135.3,529.49 L144.95,512.5 L154.6,502.27 L169.08,485.61 L173.9,470.82 L183.55,461.93" stroke="#134c88" stroke-width="1.5" fill="none" stroke-linejoin="round"/>
<path d="M62.93,530.4 L65.34,534.75 L60.51,534.75 Z" fill="#134c88"/>
<path d="M67.75,527.91 L70.17,532.25 L65.33,532.25 Z" fill="#134c88"/>
<path d="M77.4,527.08 L79.82,531.42 L74.98,531.42 Z" fill="#134c88"/>
<path d="M87.05,527.91 L89.47,532.25 L84.64,532.25 Z" fill="#134c88"/>
<path d="M96.7,527.91 L99.12,532.25 L94.28,532.25 Z" fill="#134c88"/>
<path d="M106.35,529.15 L108.77,533.5 L103.93,533.5 Z" fill="#134c88"/>
<path d="M116,528.32 L118.42,532.67 L113.58,532.67 Z" fill="#134c88"/>
<path d="M125.65,528.32 L128.06,532.67 L123.23,532.67 Z" fill="#134c88"/>
<path d="M130.47,528.74 L132.89,533.08 L128.06,533.08 Z" fill="#134c88"/>
<path d="M135.3,527.08 L137.72,531.42 L132.89,531.42 Z" fill="#134c88"/>
<path d="M144.95,510.08 L147.37,514.43 L142.54,514.43 Z" fill="#134c88"/>
<path d="M154.6,499.86 L157.01,504.21 L152.19,504.21 Z" fill="#134c88"/>
<path d="M169.08,483.2 L171.49,487.55 L166.66,487.55 Z" fill="#134c88"/>
<path d="M173.9,468.41 L176.31,472.75 L171.49,472.75 Z" fill="#134c88"/>
<path d="M183.55,459.51 L185.97,463.86 L181.14,463.86 Z" fill="#134c88"/>
<path d="M62.93,533.64 L67.75,529.49 L77.4,527.41 L87.05,513.49 L96.7,477.8 L106.35,461.76 L116,442.65" stroke="#134c88" stroke-width="1.5" fill="none" stroke-linejoin="round"/>
<circle cx="62.93" cy="533.64" r="1.99" fill="#134c88"/>
<circle cx="67.75" cy="529.49" r="1.99" fill="#134c88"/>
<circle cx="77.4" cy="527.41" r="1.99" fill="#134c88"/>
<circle cx="87.05" cy="513.49" r="1.99" fill="#134c88"/>
<circle cx="96.7" cy="477.8" r="1.99" fill="#134c88"/>
<circle cx="106.35" cy="461.76" r="1.99" fill="#134c88"/>
<circle cx="116" cy="442.65" r="1.99" fill="#134c88"/>
<path d="M62.93,534.06 L67.75,534.27 L77.4,528.24 L87.05,521.18 L96.7,499.2 L106.35,499.2 L116,485.86 L125.65,475.89" stroke="#c8163c" stroke-width="1.5" fill="none" stroke-linejoin="round"/>
<rect x="61.04" y="532.17" width="3.78" height="3.78" fill="#c8163c"/>
<rect x="65.86" y="532.38" width="3.78" height="3.78" fill="#c8163c"/>
<rect x="75.51" y="526.35" width="3.78" height="3.78" fill="#c8163c"/>
<rect x="85.16" y="519.29" width="3.78" height="3.78" fill="#c8163c"/>
<rect x="94.81" y="497.31" width="3.78" height="3.78" fill="#c8163c"/>
<rect x="104.46" y="497.31" width="3.78" height="3.78" fill="#c8163c"/>
<rect x="114.11" y="483.97" width="3.78" height="3.78" fill="#c8163c"/>
<rect x="123.76" y="474" width="3.78" height="3.78" fill="#c8163c"/>
<path d="M62.93,536.14 L77.4,530.32 L87.05,523.26 L96.7,507.47 L106.35,496.25 L116,487.11 L125.65,467.58" stroke="#c8163c" stroke-width="1.5" fill="none" stroke-linejoin="round"/>
<path d="M62.93,533.72 L65.34,538.07 L60.51,538.07 Z" fill="#c8163c"/>
<path d="M77.4,527.91 L79.82,532.25 L74.98,532.25 Z" fill="#c8163c"/>
<path d="M87.05,520.84 L89.47,525.19 L84.64,525.19 Z" fill="#c8163c"/>
<path d="M96.7,505.05 L99.12,509.4 L94.28,509.4 Z" fill="#c8163c"/>
<path d="M106.35,493.83 L108.77,498.18 L103.93,498.18 Z" fill="#c8163c"/>
<path d="M116,484.69 L118.42,489.04 L113.58,489.04 Z" fill="#c8163c"/>
<path d="M125.65,465.17 L128.06,469.51 L123.23,469.51 Z" fill="#c8163c"/>
<path d="M62.93,535.31 L77.4,529.49 L87.05,525.63 L96.7,508.71 L106.35,487.82 L116,469.82 L125.65,477.55" stroke="#c8163c" stroke-width="1.5" fill="none" stroke-linejoin="round"/>
<circle cx="62.93" cy="535.31" r="1.99" fill="#c8163c"/>
<circle cx="77.4" cy="529.49" r="1.99" fill="#c8163c"/>
<circle cx="87.05" cy="525.63" r="1.99" fill="#c8163c"/>
<circle cx="96.7" cy="508.71" r="1.99" fill="#c8163c"/>
<circle cx="106.35" cy="487.82" r="1.99" fill="#c8163c"/>
<circle cx="116" cy="469.82" r="1.99" fill="#c8163c"/>
<circle cx="125.65" cy="477.55" r="1.99" fill="#c8163c"/>
<path d="M62.93,533.64 L77.4,527.41 L87.05,514.82 L96.7,490.85 L106.35,471.32 L116,464.26 L125.65,454.41" stroke="#c8163c" stroke-width="1.5" fill="none" stroke-linejoin="round"/>
<path d="M62.93,531.54 L64.71,533.64 L62.93,535.75 L61.14,533.64 Z" fill="#c8163c"/>
<path d="M77.4,525.31 L79.19,527.41 L77.4,529.51 L75.62,527.41 Z" fill="#c8163c"/>
<path d="M87.05,512.72 L88.84,514.82 L87.05,516.92 L85.27,514.82 Z" fill="#c8163c"/>
<path d="M96.7,488.75 L98.48,490.85 L96.7,492.95 L94.92,490.85 Z" fill="#c8163c"/>
<path d="M106.35,469.22 L108.13,471.32 L106.35,473.42 L104.56,471.32 Z" fill="#c8163c"/>
<path d="M116,462.16 L117.78,464.26 L116,466.36 L114.22,464.26 Z" fill="#c8163c"/>
<path d="M125.65,452.31 L127.44,454.41 L125.65,456.51 L123.87,454.41 Z" fill="#c8163c"/>
<path d="M87.05,523.26 L96.7,495.5 L106.35,494.5 L116,503.6 L125.65,509.09 L130.47,516.32 L135.3,517.69 L144.95,526.91 L154.6,531.69 L169.08,533.48 L173.9,533.85 L183.55,534.48 L198.03,535.06 L207.68,533.64 L217.32,529.78 L231.8,528.78 L246.28,510" stroke="#4f1c6b" stroke-width="1.5" fill="none" stroke-linejoin="round"/>
<rect x="85.16" y="521.37" width="3.78" height="3.78" fill="#4f1c6b"/>
<rect x="94.81" y="493.61" width="3.78" height="3.78" fill="#4f1c6b"/>
<rect x="104.46" y="492.61" width="3.78" height="3.78" fill="#4f1c6b"/>
<rect x="114.11" y="501.71" width="3.78" height="3.78" fill="#4f1c6b"/>
<rect x="123.76" y="507.2" width="3.78" height="3.78" fill="#4f1c6b"/>
<rect x="128.59" y="514.43" width="3.78" height="3.78" fill="#4f1c6b"/>
<rect x="133.41" y="515.8" width="3.78" height="3.78" fill="#4f1c6b"/>
<rect x="143.06" y="525.02" width="3.78" height="3.78" fill="#4f1c6b"/>
<rect x="152.71" y="529.8" width="3.78" height="3.78" fill="#4f1c6b"/>
<rect x="167.19" y="531.59" width="3.78" height="3.78" fill="#4f1c6b"/>
<rect x="172.01" y="531.96" width="3.78" height="3.78" fill="#4f1c6b"/>
<rect x="181.66" y="532.59" width="3.78" height="3.78" fill="#4f1c6b"/>
<rect x="196.14" y="533.17" width="3.78" height="3.78" fill="#4f1c6b"/>
<rect x="205.79" y="531.75" width="3.78" height="3.78" fill="#4f1c6b"/>
<rect x="215.44" y="527.89" width="3.78" height="3.78" fill="#4f1c6b"/>
<rect x="229.91" y="526.89" width="3.78" height="3.78" fill="#4f1c6b"/>
<rect x="244.39" y="508.11" width="3.78" height="3.78" fill="#4f1c6b"/>
<path d="M362.8,538 L440.6,538" stroke="#222" stroke-width="1.3" fill="none" stroke-linejoin="round"/>
<path d="M348.6,538 L354.6,538 L362.8,538" stroke="#4f1c6b" stroke-width="1.3" fill="none" stroke-linejoin="round"/>
<circle cx="348.6" cy="538" r="1.9" fill="#4f1c6b"/>
<circle cx="354.6" cy="538" r="1.9" fill="#4f1c6b"/>
<circle cx="362.8" cy="538" r="1.9" fill="#4f1c6b"/>
<circle cx="389.2" cy="538" r="1.9" fill="#4f1c6b"/>
<circle cx="412" cy="538" r="1.9" fill="#4f1c6b"/>
<circle cx="440.6" cy="538" r="1.9" fill="#4f1c6b"/>
<text x="273.9" y="388.5" font-size="6.5" fill="#1e1e1e" stroke="#1e1e1e" stroke-width="0.12">*</text>
<text x="278.1" y="390.2" font-size="7.2" fill="#1e1e1e" stroke="#1e1e1e" stroke-width="0.12" textLength="48.4" lengthAdjust="spacingAndGlyphs">SGN70A300x3</text>
<line x1="293.3" y1="403.9" x2="293.3" y2="486.9" stroke="#1a1a1a" stroke-width="1.3"/>
<line x1="292.7" y1="486.5" x2="505.5" y2="486.5" stroke="#1a1a1a" stroke-width="1.3"/>
<line x1="289.8" y1="480.6" x2="293.3" y2="480.6" stroke="#1a1a1a" stroke-width="1.1"/>
<text x="287.2" y="483.5" font-size="8.2" text-anchor="end" fill="#1e1e1e" stroke="#1e1e1e" stroke-width="0.12" textLength="8.3" lengthAdjust="spacingAndGlyphs">20</text>
<line x1="289.8" y1="468.5" x2="293.3" y2="468.5" stroke="#1a1a1a" stroke-width="1.1"/>
<text x="287.2" y="471.4" font-size="8.2" text-anchor="end" fill="#1e1e1e" stroke="#1e1e1e" stroke-width="0.12" textLength="8.3" lengthAdjust="spacingAndGlyphs">40</text>
<line x1="289.8" y1="456.4" x2="293.3" y2="456.4" stroke="#1a1a1a" stroke-width="1.1"/>
<text x="287.2" y="459.3" font-size="8.2" text-anchor="end" fill="#1e1e1e" stroke="#1e1e1e" stroke-width="0.12" textLength="8.3" lengthAdjust="spacingAndGlyphs">60</text>
<line x1="289.8" y1="444.3" x2="293.3" y2="444.3" stroke="#1a1a1a" stroke-width="1.1"/>
<text x="287.2" y="447.2" font-size="8.2" text-anchor="end" fill="#1e1e1e" stroke="#1e1e1e" stroke-width="0.12" textLength="8.3" lengthAdjust="spacingAndGlyphs">80</text>
<line x1="289.8" y1="432.2" x2="293.3" y2="432.2" stroke="#1a1a1a" stroke-width="1.1"/>
<text x="287.2" y="435.1" font-size="8.2" text-anchor="end" fill="#1e1e1e" stroke="#1e1e1e" stroke-width="0.12" textLength="12.45" lengthAdjust="spacingAndGlyphs">100</text>
<line x1="289.8" y1="420.1" x2="293.3" y2="420.1" stroke="#1a1a1a" stroke-width="1.1"/>
<text x="287.2" y="423" font-size="8.2" text-anchor="end" fill="#1e1e1e" stroke="#1e1e1e" stroke-width="0.12" textLength="12.45" lengthAdjust="spacingAndGlyphs">120</text>
<line x1="289.8" y1="408" x2="293.3" y2="408" stroke="#1a1a1a" stroke-width="1.1"/>
<text x="287.2" y="410.9" font-size="8.2" text-anchor="end" fill="#1e1e1e" stroke="#1e1e1e" stroke-width="0.12" textLength="12.45" lengthAdjust="spacingAndGlyphs">140</text>
<line x1="296.6" y1="486.5" x2="296.6" y2="489.3" stroke="#1a1a1a" stroke-width="1"/>
<text transform="translate(299.2 492.3) rotate(-90)" x="0" y="0" font-size="7.2" text-anchor="end" fill="#1e1e1e" stroke="#1e1e1e" stroke-width="0.15" textLength="4" lengthAdjust="spacingAndGlyphs">6</text>
<line x1="303.7" y1="486.5" x2="303.7" y2="489.3" stroke="#1a1a1a" stroke-width="1"/>
<text transform="translate(306.3 492.3) rotate(-90)" x="0" y="0" font-size="7.2" text-anchor="end" fill="#1e1e1e" stroke="#1e1e1e" stroke-width="0.15" textLength="4" lengthAdjust="spacingAndGlyphs">8</text>
<line x1="310.8" y1="486.5" x2="310.8" y2="489.3" stroke="#1a1a1a" stroke-width="1"/>
<text transform="translate(313.4 492.3) rotate(-90)" x="0" y="0" font-size="7.2" text-anchor="end" fill="#1e1e1e" stroke="#1e1e1e" stroke-width="0.15" textLength="8" lengthAdjust="spacingAndGlyphs">10</text>
<line x1="317.9" y1="486.5" x2="317.9" y2="489.3" stroke="#1a1a1a" stroke-width="1"/>
<text transform="translate(320.5 492.3) rotate(-90)" x="0" y="0" font-size="7.2" text-anchor="end" fill="#1e1e1e" stroke="#1e1e1e" stroke-width="0.15" textLength="8" lengthAdjust="spacingAndGlyphs">12</text>
<line x1="325" y1="486.5" x2="325" y2="489.3" stroke="#1a1a1a" stroke-width="1"/>
<text transform="translate(327.6 492.3) rotate(-90)" x="0" y="0" font-size="7.2" text-anchor="end" fill="#1e1e1e" stroke="#1e1e1e" stroke-width="0.15" textLength="8" lengthAdjust="spacingAndGlyphs">14</text>
<line x1="332.1" y1="486.5" x2="332.1" y2="489.3" stroke="#1a1a1a" stroke-width="1"/>
<text transform="translate(334.7 492.3) rotate(-90)" x="0" y="0" font-size="7.2" text-anchor="end" fill="#1e1e1e" stroke="#1e1e1e" stroke-width="0.15" textLength="8" lengthAdjust="spacingAndGlyphs">16</text>
<line x1="339.2" y1="486.5" x2="339.2" y2="489.3" stroke="#1a1a1a" stroke-width="1"/>
<text transform="translate(341.8 492.3) rotate(-90)" x="0" y="0" font-size="7.2" text-anchor="end" fill="#1e1e1e" stroke="#1e1e1e" stroke-width="0.15" textLength="8" lengthAdjust="spacingAndGlyphs">18</text>
<line x1="346.3" y1="486.5" x2="346.3" y2="489.3" stroke="#1a1a1a" stroke-width="1"/>
<text transform="translate(348.9 492.3) rotate(-90)" x="0" y="0" font-size="7.2" text-anchor="end" fill="#1e1e1e" stroke="#1e1e1e" stroke-width="0.15" textLength="8" lengthAdjust="spacingAndGlyphs">20</text>
<line x1="353.4" y1="486.5" x2="353.4" y2="489.3" stroke="#1a1a1a" stroke-width="1"/>
<text transform="translate(356 492.3) rotate(-90)" x="0" y="0" font-size="7.2" text-anchor="end" fill="#1e1e1e" stroke="#1e1e1e" stroke-width="0.15" textLength="8" lengthAdjust="spacingAndGlyphs">22</text>
<line x1="360.5" y1="486.5" x2="360.5" y2="489.3" stroke="#1a1a1a" stroke-width="1"/>
<text transform="translate(363.1 492.3) rotate(-90)" x="0" y="0" font-size="7.2" text-anchor="end" fill="#1e1e1e" stroke="#1e1e1e" stroke-width="0.15" textLength="8" lengthAdjust="spacingAndGlyphs">24</text>
<line x1="367.6" y1="486.5" x2="367.6" y2="489.3" stroke="#1a1a1a" stroke-width="1"/>
<text transform="translate(370.2 492.3) rotate(-90)" x="0" y="0" font-size="7.2" text-anchor="end" fill="#1e1e1e" stroke="#1e1e1e" stroke-width="0.15" textLength="8" lengthAdjust="spacingAndGlyphs">26</text>
<line x1="374.7" y1="486.5" x2="374.7" y2="489.3" stroke="#1a1a1a" stroke-width="1"/>
<text transform="translate(377.3 492.3) rotate(-90)" x="0" y="0" font-size="7.2" text-anchor="end" fill="#1e1e1e" stroke="#1e1e1e" stroke-width="0.15" textLength="8" lengthAdjust="spacingAndGlyphs">28</text>
<line x1="381.8" y1="486.5" x2="381.8" y2="489.3" stroke="#1a1a1a" stroke-width="1"/>
<text transform="translate(384.4 492.3) rotate(-90)" x="0" y="0" font-size="7.2" text-anchor="end" fill="#1e1e1e" stroke="#1e1e1e" stroke-width="0.15" textLength="8" lengthAdjust="spacingAndGlyphs">30</text>
<line x1="388.9" y1="486.5" x2="388.9" y2="489.3" stroke="#1a1a1a" stroke-width="1"/>
<text transform="translate(391.5 492.3) rotate(-90)" x="0" y="0" font-size="7.2" text-anchor="end" fill="#1e1e1e" stroke="#1e1e1e" stroke-width="0.15" textLength="8" lengthAdjust="spacingAndGlyphs">32</text>
<line x1="396" y1="486.5" x2="396" y2="489.3" stroke="#1a1a1a" stroke-width="1"/>
<text transform="translate(398.6 492.3) rotate(-90)" x="0" y="0" font-size="7.2" text-anchor="end" fill="#1e1e1e" stroke="#1e1e1e" stroke-width="0.15" textLength="8" lengthAdjust="spacingAndGlyphs">34</text>
<line x1="403.1" y1="486.5" x2="403.1" y2="489.3" stroke="#1a1a1a" stroke-width="1"/>
<text transform="translate(405.7 492.3) rotate(-90)" x="0" y="0" font-size="7.2" text-anchor="end" fill="#1e1e1e" stroke="#1e1e1e" stroke-width="0.15" textLength="8" lengthAdjust="spacingAndGlyphs">36</text>
<line x1="410.2" y1="486.5" x2="410.2" y2="489.3" stroke="#1a1a1a" stroke-width="1"/>
<text transform="translate(412.8 492.3) rotate(-90)" x="0" y="0" font-size="7.2" text-anchor="end" fill="#1e1e1e" stroke="#1e1e1e" stroke-width="0.15" textLength="8" lengthAdjust="spacingAndGlyphs">38</text>
<line x1="417.3" y1="486.5" x2="417.3" y2="489.3" stroke="#1a1a1a" stroke-width="1"/>
<text transform="translate(419.9 492.3) rotate(-90)" x="0" y="0" font-size="7.2" text-anchor="end" fill="#1e1e1e" stroke="#1e1e1e" stroke-width="0.15" textLength="8" lengthAdjust="spacingAndGlyphs">40</text>
<line x1="424.4" y1="486.5" x2="424.4" y2="489.3" stroke="#1a1a1a" stroke-width="1"/>
<text transform="translate(427 492.3) rotate(-90)" x="0" y="0" font-size="7.2" text-anchor="end" fill="#1e1e1e" stroke="#1e1e1e" stroke-width="0.15" textLength="8" lengthAdjust="spacingAndGlyphs">42</text>
<line x1="431.5" y1="486.5" x2="431.5" y2="489.3" stroke="#1a1a1a" stroke-width="1"/>
<text transform="translate(434.1 492.3) rotate(-90)" x="0" y="0" font-size="7.2" text-anchor="end" fill="#1e1e1e" stroke="#1e1e1e" stroke-width="0.15" textLength="8" lengthAdjust="spacingAndGlyphs">44</text>
<line x1="438.6" y1="486.5" x2="438.6" y2="489.3" stroke="#1a1a1a" stroke-width="1"/>
<text transform="translate(441.2 492.3) rotate(-90)" x="0" y="0" font-size="7.2" text-anchor="end" fill="#1e1e1e" stroke="#1e1e1e" stroke-width="0.15" textLength="8" lengthAdjust="spacingAndGlyphs">46</text>
<line x1="445.7" y1="486.5" x2="445.7" y2="489.3" stroke="#1a1a1a" stroke-width="1"/>
<text transform="translate(448.3 492.3) rotate(-90)" x="0" y="0" font-size="7.2" text-anchor="end" fill="#1e1e1e" stroke="#1e1e1e" stroke-width="0.15" textLength="8" lengthAdjust="spacingAndGlyphs">48</text>
<line x1="452.8" y1="486.5" x2="452.8" y2="489.3" stroke="#1a1a1a" stroke-width="1"/>
<text transform="translate(455.4 492.3) rotate(-90)" x="0" y="0" font-size="7.2" text-anchor="end" fill="#1e1e1e" stroke="#1e1e1e" stroke-width="0.15" textLength="8" lengthAdjust="spacingAndGlyphs">50</text>
<line x1="459.9" y1="486.5" x2="459.9" y2="489.3" stroke="#1a1a1a" stroke-width="1"/>
<text transform="translate(462.5 492.3) rotate(-90)" x="0" y="0" font-size="7.2" text-anchor="end" fill="#1e1e1e" stroke="#1e1e1e" stroke-width="0.15" textLength="8" lengthAdjust="spacingAndGlyphs">52</text>
<line x1="467" y1="486.5" x2="467" y2="489.3" stroke="#1a1a1a" stroke-width="1"/>
<text transform="translate(469.6 492.3) rotate(-90)" x="0" y="0" font-size="7.2" text-anchor="end" fill="#1e1e1e" stroke="#1e1e1e" stroke-width="0.15" textLength="8" lengthAdjust="spacingAndGlyphs">54</text>
<line x1="474.1" y1="486.5" x2="474.1" y2="489.3" stroke="#1a1a1a" stroke-width="1"/>
<text transform="translate(476.7 492.3) rotate(-90)" x="0" y="0" font-size="7.2" text-anchor="end" fill="#1e1e1e" stroke="#1e1e1e" stroke-width="0.15" textLength="8" lengthAdjust="spacingAndGlyphs">56</text>
<line x1="481.2" y1="486.5" x2="481.2" y2="489.3" stroke="#1a1a1a" stroke-width="1"/>
<text transform="translate(483.8 492.3) rotate(-90)" x="0" y="0" font-size="7.2" text-anchor="end" fill="#1e1e1e" stroke="#1e1e1e" stroke-width="0.15" textLength="8" lengthAdjust="spacingAndGlyphs">58</text>
<line x1="488.3" y1="486.5" x2="488.3" y2="489.3" stroke="#1a1a1a" stroke-width="1"/>
<text transform="translate(490.9 492.3) rotate(-90)" x="0" y="0" font-size="7.2" text-anchor="end" fill="#1e1e1e" stroke="#1e1e1e" stroke-width="0.15" textLength="8" lengthAdjust="spacingAndGlyphs">60</text>
<line x1="495.4" y1="486.5" x2="495.4" y2="489.3" stroke="#1a1a1a" stroke-width="1"/>
<text transform="translate(498 492.3) rotate(-90)" x="0" y="0" font-size="7.2" text-anchor="end" fill="#1e1e1e" stroke="#1e1e1e" stroke-width="0.15" textLength="8" lengthAdjust="spacingAndGlyphs">62</text>
<line x1="502.5" y1="486.5" x2="502.5" y2="489.3" stroke="#1a1a1a" stroke-width="1"/>
<text transform="translate(505.1 492.3) rotate(-90)" x="0" y="0" font-size="7.2" text-anchor="end" fill="#1e1e1e" stroke="#1e1e1e" stroke-width="0.15" textLength="8" lengthAdjust="spacingAndGlyphs">64</text>
<text transform="translate(269.2 446) rotate(-90)" x="0" y="0" font-size="8.8" text-anchor="middle" fill="#1e1e1e" stroke="#1e1e1e" stroke-width="0.35" textLength="64" lengthAdjust="spacingAndGlyphs">Tumor volume (mm<tspan font-size="5" dy="-2.5">3</tspan><tspan dy="2.5">)</tspan></text>
<text x="367.7" y="514.1" font-size="8.8" fill="#1e1e1e" stroke="#1e1e1e" stroke-width="0.35" textLength="63.5" lengthAdjust="spacingAndGlyphs">Days post implantation</text>
<line x1="300.4" y1="404.5" x2="300.4" y2="486.2" stroke="#e0405f" stroke-width="1" stroke-dasharray="1.3 1.3"/>
<text x="300.4" y="402.7" font-size="6.9" text-anchor="middle" fill="#c8163c" stroke="#c8163c" stroke-width="0.12">1st</text>
<line x1="326.1" y1="404.5" x2="326.1" y2="486.2" stroke="#e0405f" stroke-width="1" stroke-dasharray="1.3 1.3"/>
<text x="326.1" y="402.7" font-size="6.9" text-anchor="middle" fill="#c8163c" stroke="#c8163c" stroke-width="0.12">2nd</text>
<line x1="351.6" y1="404.5" x2="351.6" y2="486.2" stroke="#e0405f" stroke-width="1" stroke-dasharray="1.3 1.3"/>
<text x="351.6" y="402.7" font-size="6.9" text-anchor="middle" fill="#c8163c" stroke="#c8163c" stroke-width="0.12">3rd</text>
<path d="M303.8,421 L310.7,421 L317.6,453.7 L325.1,467.5 L331.8,466.7 L339.2,465.8 L346.1,475.4 L350.2,475.1 L353.3,463.8 L360.7,460.8 L367.7,465.4 L378.5,470 L382,466.9 L388.8,473.5 L400,473 L406.8,473 L413.8,473 L424.3,473 L434.9,464.5 L442.3,463.9 L463.5,477.9 L484.6,477.9 L499,479.3" stroke="#000" stroke-width="1.4" fill="none" stroke-linejoin="round"/>
<path d="M299.9,460.8 L303.8,453.8 L310.7,439.7 L317.6,436.2 L325.1,440 L332.2,449.2 L339.2,453.5 L346.1,446.9 L350.2,436.2 L360.7,457.7 L367.7,465.4 L378.5,461.2 L382,460.8 L388.8,448.5 L400,457.1 L406.8,460.7 L413.8,452.9 L424.3,456.7 L434.9,440.2 L442.3,454.6 L463.5,472.3 L484.6,472.3 L499,479.3" stroke="#000" stroke-width="1.4" fill="none" stroke-linejoin="round"/>
<path d="M299.9,437.6 L304.1,425.6 L310.7,421 L317.6,453.7 L325.1,437.6 L331.8,435.3 L339.2,435.4 L346.1,454.6 L350.2,458.2 L353.3,445.4 L360.7,435.1 L367.7,444.3 L378.5,452 L382,435.1 L388.8,433.1 L400,449.5 L406.8,445.5 L413.8,445.1 L424.3,445.1 L434.9,473.6 L442.3,458.2 L463.5,463.9 L484.6,470.2 L499,461.3" stroke="#c8163c" stroke-width="1.4" fill="none" stroke-linejoin="round"/>
<path d="M299.9,444.9 L304.1,437.1 L306.6,407" stroke="#000" stroke-width="1.3" fill="none" stroke-linejoin="round" stroke-dasharray="1.6 1.2"/>
<path d="M354.6,407.5 L378.5,430 L382.3,435.1 L400,453 L406.9,432.3 L409.8,407.5" stroke="#000" stroke-width="1.3" fill="none" stroke-linejoin="round" stroke-dasharray="1.6 1.2"/>
<path d="M299.9,435.19 L302.31,439.53 L297.48,439.53 Z" fill="#c8163c"/>
<path d="M304.1,423.19 L306.52,427.53 L301.69,427.53 Z" fill="#c8163c"/>
<path d="M310.7,418.58 L313.12,422.93 L308.28,422.93 Z" fill="#c8163c"/>
<path d="M317.6,451.28 L320.02,455.63 L315.19,455.63 Z" fill="#c8163c"/>
<path d="M325.1,435.19 L327.52,439.53 L322.69,439.53 Z" fill="#c8163c"/>
<path d="M331.8,432.88 L334.22,437.23 L329.38,437.23 Z" fill="#c8163c"/>
<path d="M339.2,432.98 L341.62,437.33 L336.78,437.33 Z" fill="#c8163c"/>
<path d="M346.1,452.19 L348.52,456.53 L343.69,456.53 Z" fill="#c8163c"/>
<path d="M350.2,455.78 L352.62,460.13 L347.78,460.13 Z" fill="#c8163c"/>
<path d="M353.3,442.98 L355.72,447.33 L350.88,447.33 Z" fill="#c8163c"/>
<path d="M360.7,432.69 L363.12,437.03 L358.28,437.03 Z" fill="#c8163c"/>
<path d="M367.7,441.88 L370.12,446.23 L365.28,446.23 Z" fill="#c8163c"/>
<path d="M378.5,449.58 L380.92,453.93 L376.08,453.93 Z" fill="#c8163c"/>
<path d="M382,432.69 L384.42,437.03 L379.58,437.03 Z" fill="#c8163c"/>
<path d="M388.8,430.69 L391.22,435.03 L386.38,435.03 Z" fill="#c8163c"/>
<path d="M400,447.08 L402.42,451.43 L397.58,451.43 Z" fill="#c8163c"/>
<path d="M406.8,443.08 L409.22,447.43 L404.38,447.43 Z" fill="#c8163c"/>
<path d="M413.8,442.69 L416.22,447.03 L411.38,447.03 Z" fill="#c8163c"/>
<path d="M424.3,442.69 L426.72,447.03 L421.88,447.03 Z" fill="#c8163c"/>
<path d="M434.9,471.19 L437.31,475.53 L432.48,475.53 Z" fill="#c8163c"/>
<path d="M442.3,455.78 L444.72,460.13 L439.88,460.13 Z" fill="#c8163c"/>
<path d="M463.5,461.48 L465.92,465.83 L461.08,465.83 Z" fill="#c8163c"/>
<path d="M484.6,467.78 L487.02,472.13 L482.19,472.13 Z" fill="#c8163c"/>
<path d="M499,458.88 L501.42,463.23 L496.58,463.23 Z" fill="#c8163c"/>
<path d="M299.9,458.7 L301.69,460.8 L299.9,462.9 L298.11,460.8 Z" fill="#c8163c"/>
<path d="M303.8,451.7 L305.59,453.8 L303.8,455.9 L302.01,453.8 Z" fill="#c8163c"/>
<path d="M310.7,437.6 L312.49,439.7 L310.7,441.8 L308.91,439.7 Z" fill="#c8163c"/>
<path d="M317.6,434.1 L319.39,436.2 L317.6,438.3 L315.81,436.2 Z" fill="#c8163c"/>
<path d="M325.1,437.9 L326.89,440 L325.1,442.1 L323.31,440 Z" fill="#c8163c"/>
<path d="M332.2,447.1 L333.99,449.2 L332.2,451.3 L330.41,449.2 Z" fill="#c8163c"/>
<path d="M339.2,451.4 L340.99,453.5 L339.2,455.6 L337.41,453.5 Z" fill="#c8163c"/>
<path d="M346.1,444.8 L347.89,446.9 L346.1,449 L344.31,446.9 Z" fill="#c8163c"/>
<path d="M350.2,434.1 L351.99,436.2 L350.2,438.3 L348.41,436.2 Z" fill="#c8163c"/>
<path d="M360.7,455.6 L362.49,457.7 L360.7,459.8 L358.91,457.7 Z" fill="#c8163c"/>
<path d="M367.7,463.3 L369.49,465.4 L367.7,467.5 L365.91,465.4 Z" fill="#c8163c"/>
<path d="M378.5,459.1 L380.29,461.2 L378.5,463.3 L376.71,461.2 Z" fill="#c8163c"/>
<path d="M382,458.7 L383.79,460.8 L382,462.9 L380.21,460.8 Z" fill="#c8163c"/>
<path d="M388.8,446.4 L390.59,448.5 L388.8,450.6 L387.01,448.5 Z" fill="#c8163c"/>
<path d="M400,455 L401.79,457.1 L400,459.2 L398.21,457.1 Z" fill="#c8163c"/>
<path d="M406.8,458.6 L408.59,460.7 L406.8,462.8 L405.01,460.7 Z" fill="#c8163c"/>
<path d="M413.8,450.8 L415.59,452.9 L413.8,455 L412.01,452.9 Z" fill="#c8163c"/>
<path d="M424.3,454.6 L426.09,456.7 L424.3,458.8 L422.51,456.7 Z" fill="#c8163c"/>
<path d="M434.9,438.1 L436.69,440.2 L434.9,442.3 L433.11,440.2 Z" fill="#c8163c"/>
<path d="M442.3,452.5 L444.09,454.6 L442.3,456.7 L440.51,454.6 Z" fill="#c8163c"/>
<path d="M463.5,470.2 L465.29,472.3 L463.5,474.4 L461.71,472.3 Z" fill="#c8163c"/>
<path d="M484.6,470.2 L486.39,472.3 L484.6,474.4 L482.81,472.3 Z" fill="#c8163c"/>
<path d="M499,477.2 L500.79,479.3 L499,481.4 L497.21,479.3 Z" fill="#c8163c"/>
<circle cx="303.8" cy="421" r="1.99" fill="#e8899d"/>
<circle cx="310.7" cy="421" r="1.99" fill="#e8899d"/>
<circle cx="317.6" cy="453.7" r="1.99" fill="#e8899d"/>
<circle cx="325.1" cy="467.5" r="1.99" fill="#e8899d"/>
<circle cx="331.8" cy="466.7" r="1.99" fill="#e8899d"/>
<circle cx="339.2" cy="465.8" r="1.99" fill="#e8899d"/>
<circle cx="346.1" cy="475.4" r="1.99" fill="#e8899d"/>
<circle cx="350.2" cy="475.1" r="1.99" fill="#e8899d"/>
<circle cx="353.3" cy="463.8" r="1.99" fill="#e8899d"/>
<circle cx="360.7" cy="460.8" r="1.99" fill="#e8899d"/>
<circle cx="367.7" cy="465.4" r="1.99" fill="#e8899d"/>
<circle cx="378.5" cy="470" r="1.99" fill="#e8899d"/>
<circle cx="382" cy="466.9" r="1.99" fill="#e8899d"/>
<circle cx="388.8" cy="473.5" r="1.99" fill="#e8899d"/>
<circle cx="400" cy="473" r="1.99" fill="#e8899d"/>
<circle cx="406.8" cy="473" r="1.99" fill="#e8899d"/>
<circle cx="413.8" cy="473" r="1.99" fill="#e8899d"/>
<circle cx="424.3" cy="473" r="1.99" fill="#e8899d"/>
<circle cx="434.9" cy="464.5" r="1.99" fill="#e8899d"/>
<circle cx="442.3" cy="463.9" r="1.99" fill="#e8899d"/>
<circle cx="463.5" cy="477.9" r="1.99" fill="#e8899d"/>
<circle cx="484.6" cy="477.9" r="1.99" fill="#e8899d"/>
<circle cx="499" cy="479.3" r="1.99" fill="#e8899d"/>
<rect x="298.01" y="443.01" width="3.78" height="3.78" fill="#e8899d"/>
<rect x="302.21" y="435.21" width="3.78" height="3.78" fill="#e8899d"/>
<rect x="376.61" y="428.11" width="3.78" height="3.78" fill="#e8899d"/>
<rect x="380.41" y="433.21" width="3.78" height="3.78" fill="#e8899d"/>
<rect x="398.11" y="451.11" width="3.78" height="3.78" fill="#e8899d"/>
<rect x="405.01" y="430.41" width="3.78" height="3.78" fill="#e8899d"/>
<text x="480.85" y="403.9" font-size="6.4" text-anchor="middle" fill="#1e1e1e" stroke="#1e1e1e" stroke-width="0.12" textLength="45.9" lengthAdjust="spacingAndGlyphs">SGN70A300x3</text>
<line x1="457.9" y1="406.5" x2="503.8" y2="406.5" stroke="#6a6a6a" stroke-width="1.5"/>
<line x1="466.9" y1="412.3" x2="476.7" y2="412.3" stroke="#000" stroke-width="1.3"/>
<circle cx="471.8" cy="412.3" r="1.8" fill="#e8899d"/>
<text x="482.4" y="414.6" font-size="6.4" fill="#1e1e1e" stroke="#1e1e1e" stroke-width="0.12" textLength="11.2" lengthAdjust="spacingAndGlyphs">#21</text>
<line x1="466.9" y1="418.47" x2="476.7" y2="418.47" stroke="#000" stroke-width="1.3" stroke-dasharray="1.2 1.0"/>
<rect x="470.09" y="416.76" width="3.42" height="3.42" fill="#e8899d"/>
<text x="482.4" y="420.77" font-size="6.4" fill="#1e1e1e" stroke="#1e1e1e" stroke-width="0.12" textLength="11.2" lengthAdjust="spacingAndGlyphs">#22</text>
<line x1="466.9" y1="424.64" x2="476.7" y2="424.64" stroke="#c8163c" stroke-width="1.3"/>
<path d="M471.8,422.45 L473.99,426.39 L469.62,426.39 Z" fill="#c8163c"/>
<text x="482.4" y="426.94" font-size="6.4" fill="#1e1e1e" stroke="#1e1e1e" stroke-width="0.12" textLength="11.2" lengthAdjust="spacingAndGlyphs">#29</text>
<line x1="466.9" y1="430.81" x2="476.7" y2="430.81" stroke="#000" stroke-width="1.3"/>
<path d="M471.8,428.91 L473.42,430.81 L471.8,432.71 L470.19,430.81 Z" fill="#c8163c"/>
<text x="482.4" y="433.11" font-size="6.4" fill="#1e1e1e" stroke="#1e1e1e" stroke-width="0.12" textLength="11.2" lengthAdjust="spacingAndGlyphs">#35</text>
<rect x="0.5" y="0.5" width="519" height="577" fill="none" stroke="#000" stroke-width="1.2"/>
</svg></body></html>
